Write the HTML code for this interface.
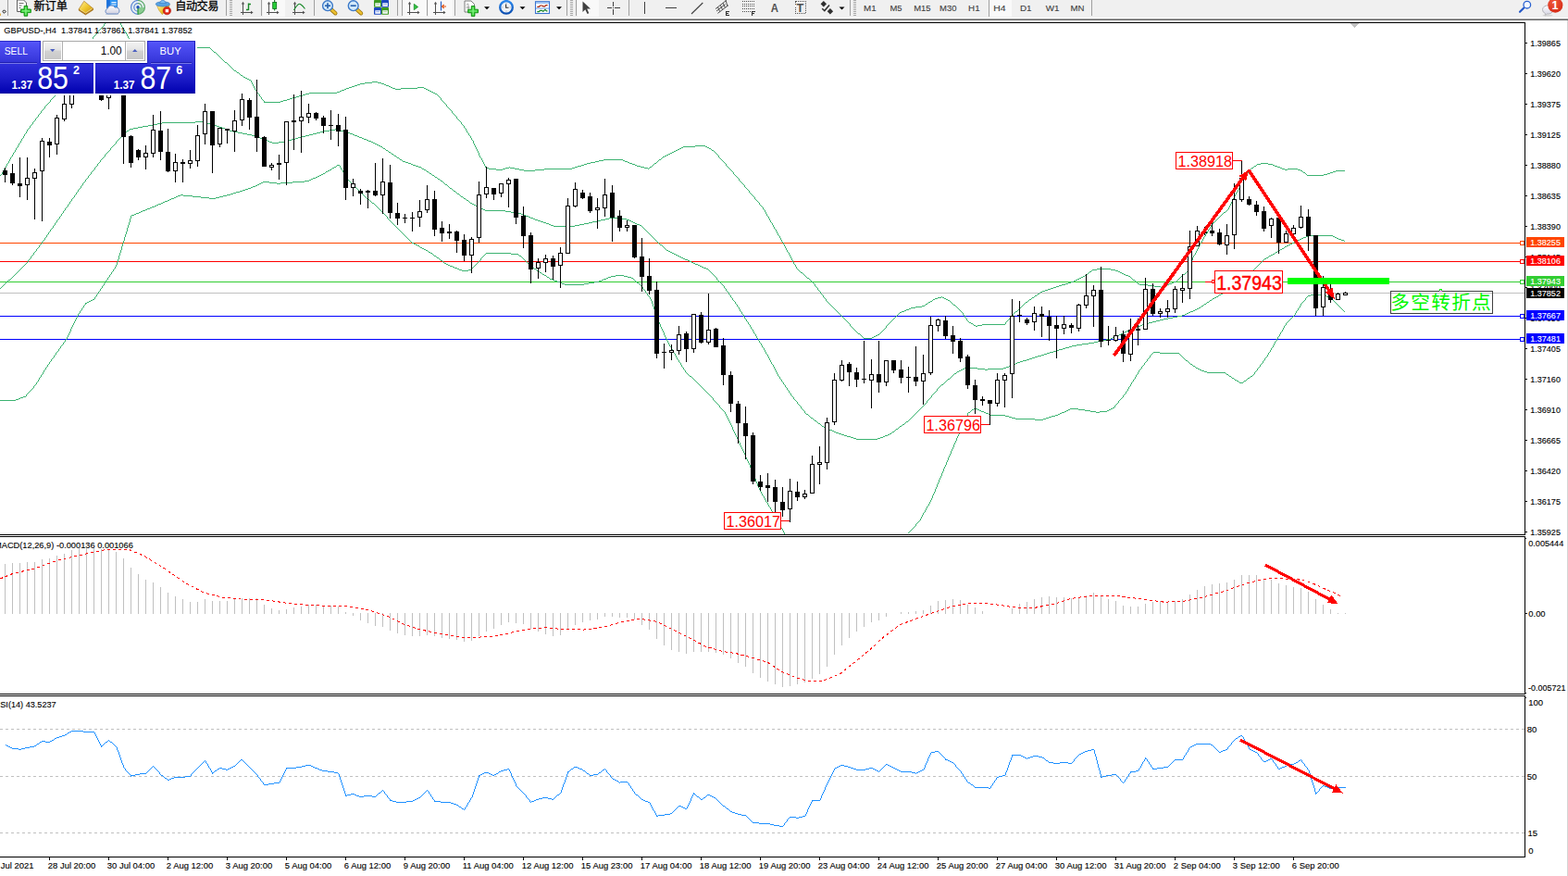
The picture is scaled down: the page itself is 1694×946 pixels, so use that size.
<!DOCTYPE html><html><head><meta charset="utf-8"><title>GBPUSD H4</title>
<style>html,body{margin:0;padding:0;background:#fff;}body{width:1694px;height:946px;overflow:hidden;position:relative;font-family:"Liberation Sans","Noto Sans CJK SC",sans-serif;}svg{position:absolute;left:0;top:0;display:block}text{font-family:"Liberation Sans","Noto Sans CJK SC",sans-serif;}</style></head><body>
<svg width="1694" height="946" viewBox="0 0 1694 946">
<defs>
<linearGradient id="gTab" x1="0" y1="0" x2="0" y2="1"><stop offset="0" stop-color="#5656fa"/><stop offset="1" stop-color="#3232d6"/></linearGradient>
<linearGradient id="gBox" x1="0" y1="0" x2="0" y2="1"><stop offset="0" stop-color="#3030dc"/><stop offset="0.5" stop-color="#1c1cc8"/><stop offset="1" stop-color="#0000ae"/></linearGradient>
<linearGradient id="gBtn" x1="0" y1="0" x2="0" y2="1"><stop offset="0" stop-color="#f2f2f2"/><stop offset="0.45" stop-color="#e4e4e4"/><stop offset="0.5" stop-color="#d2d2d2"/><stop offset="1" stop-color="#c8c8c8"/></linearGradient>
<radialGradient id="gBadge" cx="0.4" cy="0.3" r="0.8"><stop offset="0" stop-color="#f05a3c"/><stop offset="1" stop-color="#d42814"/></radialGradient>
<linearGradient id="gBook" x1="0" y1="0" x2="1" y2="1"><stop offset="0" stop-color="#fff0a0"/><stop offset="0.5" stop-color="#f0c830"/><stop offset="1" stop-color="#c89010"/></linearGradient>
<linearGradient id="gBubble" x1="0" y1="0" x2="0" y2="1"><stop offset="0" stop-color="#ffffff"/><stop offset="1" stop-color="#d0d0e0"/></linearGradient>
<linearGradient id="gClock" x1="0" y1="0" x2="0" y2="1"><stop offset="0" stop-color="#2a88ee"/><stop offset="1" stop-color="#0c4eb0"/></linearGradient>
<clipPath id="clipMain"><rect x="0" y="25" width="1647" height="552"/></clipPath>
</defs>
<rect x="0" y="0" width="1694" height="946" fill="#fff"/>
<g shape-rendering="crispEdges" clip-path="url(#clipMain)">
<rect x="0" y="262" width="1647" height="1" fill="#ff4500"/>
<rect x="0" y="282" width="1647" height="1" fill="#ff0000"/>
<rect x="0" y="304" width="1647" height="1" fill="#32cd32"/>
<rect x="0" y="316" width="1647" height="1" fill="#c0c0c0"/>
<rect x="0" y="341" width="1647" height="1" fill="#0000ff"/>
<rect x="0" y="366" width="1647" height="1" fill="#0000ff"/>
<path d="M0 189h1v1h-1zM1 188h1v1h-1zM2 186h1v2h-1zM3 184h1v2h-1zM4 182h1v2h-1zM5 181h1v1h-1zM6 179h1v2h-1zM7 177h1v2h-1zM8 176h1v1h-1zM9 174h1v2h-1zM10 172h1v2h-1zM11 170h1v2h-1zM12 169h1v1h-1zM13 167h1v2h-1zM14 165h1v2h-1zM15 164h1v1h-1zM16 162h1v2h-1zM17 160h1v2h-1zM18 159h1v1h-1zM19 157h1v2h-1zM20 155h1v2h-1zM21 154h1v1h-1zM22 152h1v2h-1zM23 150h1v2h-1zM24 149h1v1h-1zM25 147h1v2h-1zM26 145h1v2h-1zM27 144h1v1h-1zM28 142h1v2h-1zM29 140h1v2h-1zM30 139h1v1h-1zM31 138h1v1h-1zM32 136h1v2h-1zM33 135h1v1h-1zM34 134h1v1h-1zM35 132h1v2h-1zM36 131h1v1h-1zM37 130h1v1h-1zM38 128h1v2h-1zM39 127h1v1h-1zM40 126h1v1h-1zM41 124h1v2h-1zM42 123h1v1h-1zM43 122h1v1h-1zM44 120h1v2h-1zM45 119h1v1h-1zM46 118h1v1h-1zM47 117h1v1h-1zM48 115h1v2h-1zM49 114h1v1h-1zM50 113h1v1h-1zM51 112h1v1h-1zM52 111h1v1h-1zM53 110h1v1h-1zM54 108h1v2h-1zM55 107h1v1h-1zM56 106h1v1h-1zM57 105h1v1h-1zM58 104h1v1h-1zM59 102h1v2h-1zM60 101h1v1h-1zM61 99h1v2h-1zM62 98h1v1h-1zM63 97h1v1h-1zM64 95h1v2h-1zM65 94h1v1h-1zM66 92h1v2h-1zM67 91h1v1h-1zM68 89h1v2h-1zM69 88h1v1h-1zM70 86h1v2h-1zM71 85h1v1h-1zM72 83h1v2h-1zM73 82h1v1h-1zM74 80h1v2h-1zM75 79h1v1h-1zM76 77h1v2h-1zM77 75h1v2h-1zM78 74h1v1h-1zM79 72h1v2h-1zM80 70h1v2h-1zM81 69h1v1h-1zM82 67h1v2h-1zM83 65h1v2h-1zM84 64h1v1h-1zM85 62h1v2h-1zM86 60h1v2h-1zM87 59h1v1h-1zM88 57h1v2h-1zM89 55h1v2h-1zM90 54h1v1h-1zM91 52h1v2h-1zM92 51h1v1h-1zM93 50h1v1h-1zM94 48h1v2h-1zM95 47h1v1h-1zM96 46h1v1h-1zM97 44h1v2h-1zM98 43h1v1h-1zM99 42h1v1h-1zM100 40h1v2h-1zM101 39h1v1h-1zM102 38h1v1h-1zM103 37h1v1h-1zM104 36h1v1h-1zM105 34h1v2h-1zM106 33h1v1h-1zM107 32h1v1h-1zM108 31h1v1h-1zM109 30h1v1h-1zM110 29h1v1h-1zM111 28h1v1h-1zM112 26h1v2h-1zM113 25h1v1h-1zM114 24h1v1h-1zM115 23h1v1h-1zM116 22h1v1h-1zM117 21h1v1h-1zM118 20h1v1h-1zM119 19h1v1h-1zM120 18h1v1h-1zM121 17h2v1h-2zM123 18h1v1h-1zM124 19h1v1h-1zM125 20h1v1h-1zM126 21h1v1h-1zM127 22h1v1h-1zM128 23h1v1h-1zM129 24h1v1h-1zM130 25h1v2h-1zM131 27h1v2h-1zM132 29h1v1h-1zM133 30h1v2h-1zM134 32h1v2h-1zM135 34h1v1h-1zM136 35h1v2h-1zM137 37h1v2h-1zM138 39h1v2h-1zM139 41h1v2h-1zM140 43h1v2h-1zM141 45h9v1h-9zM150 46h10v1h-10zM160 47h10v1h-10zM170 48h10v1h-10zM180 49h10v1h-10zM190 50h14v1h-14zM204 51h23v1h-23zM227 52h1v1h-1zM228 53h1v1h-1zM229 54h1v1h-1zM230 55h1v1h-1zM231 56h2v1h-2zM233 57h1v1h-1zM234 58h1v1h-1zM235 59h1v1h-1zM236 60h1v1h-1zM237 61h1v1h-1zM238 62h1v1h-1zM239 63h1v1h-1zM240 64h1v1h-1zM241 65h1v1h-1zM242 66h1v1h-1zM243 67h2v1h-2zM245 68h1v1h-1zM246 69h1v1h-1zM247 70h1v1h-1zM248 71h1v1h-1zM249 72h1v1h-1zM250 73h1v1h-1zM251 74h1v1h-1zM252 75h1v1h-1zM253 76h2v1h-2zM255 77h1v1h-1zM256 78h2v1h-2zM258 79h1v1h-1zM259 80h1v1h-1zM260 81h2v1h-2zM262 82h1v1h-1zM263 83h2v1h-2zM265 84h2v1h-2zM267 85h2v1h-2zM269 86h2v1h-2zM271 87h1v2h-1zM272 89h1v2h-1zM273 91h1v2h-1zM274 93h1v2h-1zM275 95h1v2h-1zM276 97h1v1h-1zM277 98h1v2h-1zM278 100h1v1h-1zM279 101h1v1h-1zM280 102h1v2h-1zM281 104h1v1h-1zM282 105h1v2h-1zM283 107h1v1h-1zM284 108h1v1h-1zM285 109h1v2h-1zM286 110h17v1h-17zM303 109h3v1h-3zM306 108h4v1h-4zM310 107h3v1h-3zM313 106h3v1h-3zM316 105h4v1h-4zM320 104h3v1h-3zM323 103h4v1h-4zM327 102h3v1h-3zM330 101h4v1h-4zM334 100h30v1h-30zM364 99h3v1h-3zM367 98h2v1h-2zM369 97h3v1h-3zM372 96h2v1h-2zM374 95h3v1h-3zM377 94h3v1h-3zM380 93h3v1h-3zM383 92h3v1h-3zM386 91h3v1h-3zM389 90h5v1h-5zM394 89h8v1h-8zM402 88h6v1h-6zM408 89h4v1h-4zM412 90h3v1h-3zM415 91h2v1h-2zM417 92h3v1h-3zM420 93h2v1h-2zM422 94h2v1h-2zM424 95h3v1h-3zM427 96h6v1h-6zM433 95h18v1h-18zM451 94h7v1h-7zM458 95h2v1h-2zM460 96h2v1h-2zM462 97h2v1h-2zM464 98h2v1h-2zM466 99h2v1h-2zM468 100h2v1h-2zM470 101h2v1h-2zM472 102h1v1h-1zM473 103h1v1h-1zM474 104h1v1h-1zM475 105h1v1h-1zM476 106h1v2h-1zM477 108h1v1h-1zM478 109h1v1h-1zM479 110h1v1h-1zM480 111h1v1h-1zM481 112h1v1h-1zM482 113h1v2h-1zM483 115h1v1h-1zM484 116h1v1h-1zM485 117h1v1h-1zM486 118h1v1h-1zM487 119h1v1h-1zM488 120h1v2h-1zM489 122h1v1h-1zM490 123h1v1h-1zM491 124h1v1h-1zM492 125h1v1h-1zM493 126h1v2h-1zM494 128h1v1h-1zM495 129h1v1h-1zM496 130h1v1h-1zM497 131h1v1h-1zM498 132h1v2h-1zM499 134h1v1h-1zM500 135h1v1h-1zM501 136h1v2h-1zM502 138h1v1h-1zM503 139h1v2h-1zM504 141h1v2h-1zM505 143h1v1h-1zM506 144h1v2h-1zM507 146h1v1h-1zM508 147h1v2h-1zM509 149h1v2h-1zM510 151h1v1h-1zM511 152h1v3h-1zM512 155h1v2h-1zM513 157h1v2h-1zM514 159h1v2h-1zM515 161h1v2h-1zM516 163h1v2h-1zM517 165h1v3h-1zM518 168h1v2h-1zM519 170h1v1h-1zM520 171h1v2h-1zM521 173h1v2h-1zM522 175h1v2h-1zM523 177h1v2h-1zM524 179h1v2h-1zM525 181h3v1h-3zM528 182h8v1h-8zM536 183h7v1h-7zM543 182h3v1h-3zM546 181h4v1h-4zM550 180h1v1h-1zM551 181h5v1h-5zM556 182h5v1h-5zM561 183h5v1h-5zM566 184h12v1h-12zM578 183h10v1h-10zM588 182h30v1h-30zM618 181h3v1h-3zM621 180h3v1h-3zM624 179h4v1h-4zM628 178h3v1h-3zM631 177h3v1h-3zM634 176h4v1h-4zM638 175h5v1h-5zM643 174h4v1h-4zM647 173h5v1h-5zM652 172h21v1h-21zM673 173h2v1h-2zM675 174h3v1h-3zM678 175h2v1h-2zM680 176h3v1h-3zM683 177h3v1h-3zM686 178h2v1h-2zM688 179h4v1h-4zM692 180h4v1h-4zM696 181h4v1h-4zM700 182h1v1h-1zM701 181h1v1h-1zM702 180h2v1h-2zM704 179h1v1h-1zM705 178h1v1h-1zM706 177h1v1h-1zM707 176h2v1h-2zM709 175h1v1h-1zM710 174h1v1h-1zM711 173h1v1h-1zM712 172h2v1h-2zM714 171h1v1h-1zM715 170h1v1h-1zM716 169h2v1h-2zM718 168h2v1h-2zM720 167h2v1h-2zM722 166h2v1h-2zM724 165h2v1h-2zM726 164h2v1h-2zM728 163h2v1h-2zM730 162h2v1h-2zM732 161h2v1h-2zM734 160h2v1h-2zM736 159h2v1h-2zM738 158h13v1h-13zM751 157h11v1h-11zM762 158h2v1h-2zM764 159h2v1h-2zM766 160h2v1h-2zM768 161h1v1h-1zM769 162h2v1h-2zM771 163h1v1h-1zM772 164h1v1h-1zM773 165h1v1h-1zM774 166h1v1h-1zM775 167h1v1h-1zM776 168h1v2h-1zM777 170h1v1h-1zM778 171h1v1h-1zM779 172h1v1h-1zM780 173h1v1h-1zM781 174h1v1h-1zM782 175h1v1h-1zM783 176h1v1h-1zM784 177h1v2h-1zM785 179h1v1h-1zM786 180h1v1h-1zM787 181h1v1h-1zM788 182h1v1h-1zM789 183h1v1h-1zM790 184h1v1h-1zM791 185h1v1h-1zM792 186h1v2h-1zM793 188h1v1h-1zM794 189h1v1h-1zM795 190h1v1h-1zM796 191h1v1h-1zM797 192h1v1h-1zM798 193h1v2h-1zM799 195h1v1h-1zM800 196h1v1h-1zM801 197h1v1h-1zM802 198h1v1h-1zM803 199h1v1h-1zM804 200h1v2h-1zM805 202h1v1h-1zM806 203h1v1h-1zM807 204h1v1h-1zM808 205h1v1h-1zM809 206h1v2h-1zM810 208h1v1h-1zM811 209h1v1h-1zM812 210h1v1h-1zM813 211h1v1h-1zM814 212h1v1h-1zM815 213h1v2h-1zM816 215h1v1h-1zM817 216h1v1h-1zM818 217h1v1h-1zM819 218h1v1h-1zM820 219h1v2h-1zM821 221h1v1h-1zM822 222h1v1h-1zM823 223h1v1h-1zM824 224h1v2h-1zM825 226h1v1h-1zM826 227h1v2h-1zM827 229h1v2h-1zM828 231h1v2h-1zM829 233h1v1h-1zM830 234h1v2h-1zM831 236h1v2h-1zM832 238h1v2h-1zM833 240h1v1h-1zM834 241h1v2h-1zM835 243h1v2h-1zM836 245h1v2h-1zM837 247h1v1h-1zM838 248h1v2h-1zM839 250h1v2h-1zM840 252h1v2h-1zM841 254h1v1h-1zM842 255h1v2h-1zM843 257h1v2h-1zM844 259h1v2h-1zM845 261h1v1h-1zM846 262h1v2h-1zM847 264h1v2h-1zM848 266h1v2h-1zM849 268h1v2h-1zM850 270h1v2h-1zM851 272h1v1h-1zM852 273h1v2h-1zM853 275h1v2h-1zM854 277h1v2h-1zM855 279h1v2h-1zM856 281h1v2h-1zM857 283h1v2h-1zM858 285h1v1h-1zM859 286h1v2h-1zM860 288h1v2h-1zM861 290h1v1h-1zM862 291h1v1h-1zM863 292h1v1h-1zM864 293h1v1h-1zM865 294h2v1h-2zM867 295h1v1h-1zM868 296h1v1h-1zM869 297h1v1h-1zM870 298h1v1h-1zM871 299h1v1h-1zM872 300h2v1h-2zM874 301h1v1h-1zM875 302h1v1h-1zM876 303h1v1h-1zM877 304h1v1h-1zM878 305h1v1h-1zM879 306h1v1h-1zM880 307h1v2h-1zM881 309h1v1h-1zM882 310h1v1h-1zM883 311h1v2h-1zM884 313h1v1h-1zM885 314h1v1h-1zM886 315h1v2h-1zM887 317h1v1h-1zM888 318h1v1h-1zM889 319h1v2h-1zM890 321h1v1h-1zM891 322h1v1h-1zM892 323h1v2h-1zM893 325h1v1h-1zM894 326h1v1h-1zM895 327h1v1h-1zM896 328h1v1h-1zM897 329h1v1h-1zM898 330h1v1h-1zM899 331h1v1h-1zM900 332h1v1h-1zM901 333h1v1h-1zM902 334h1v1h-1zM903 335h1v1h-1zM904 336h1v1h-1zM905 337h1v1h-1zM906 338h1v1h-1zM907 339h1v1h-1zM908 340h1v1h-1zM909 341h1v1h-1zM910 342h1v1h-1zM911 343h1v1h-1zM912 344h1v1h-1zM913 345h1v1h-1zM914 346h1v1h-1zM915 347h1v1h-1zM916 348h1v1h-1zM917 349h1v1h-1zM918 350h1v2h-1zM919 352h1v1h-1zM920 353h1v1h-1zM921 354h1v1h-1zM922 355h1v1h-1zM923 356h1v1h-1zM924 357h1v1h-1zM925 358h1v1h-1zM926 359h1v1h-1zM927 360h2v1h-2zM929 361h1v1h-1zM930 362h1v1h-1zM931 363h1v1h-1zM932 364h1v1h-1zM933 365h9v1h-9zM942 364h2v1h-2zM944 363h2v1h-2zM946 362h2v1h-2zM948 361h2v1h-2zM950 360h1v1h-1zM951 359h1v1h-1zM952 358h1v1h-1zM953 357h1v1h-1zM954 356h1v1h-1zM955 355h1v1h-1zM956 354h1v1h-1zM957 352h1v2h-1zM958 351h1v1h-1zM959 350h1v1h-1zM960 349h1v1h-1zM961 348h1v1h-1zM962 347h1v1h-1zM963 346h1v1h-1zM964 345h1v1h-1zM965 344h1v1h-1zM966 343h1v1h-1zM967 342h1v1h-1zM968 341h1v1h-1zM969 340h1v1h-1zM970 339h1v1h-1zM971 338h1v1h-1zM972 337h2v1h-2zM974 336h3v1h-3zM977 335h2v1h-2zM979 334h3v1h-3zM982 333h2v1h-2zM984 332h5v1h-5zM989 331h7v1h-7zM996 330h3v1h-3zM999 329h1v1h-1zM1000 328h2v1h-2zM1002 327h1v1h-1zM1003 326h2v1h-2zM1005 325h2v1h-2zM1007 324h1v1h-1zM1008 323h2v1h-2zM1010 322h3v1h-3zM1013 321h4v1h-4zM1017 320h1v1h-1zM1018 321h2v1h-2zM1020 322h2v1h-2zM1022 323h2v1h-2zM1024 324h2v1h-2zM1026 325h1v1h-1zM1027 326h1v1h-1zM1028 327h1v1h-1zM1029 328h1v1h-1zM1030 329h2v1h-2zM1032 330h1v1h-1zM1033 331h1v1h-1zM1034 332h1v1h-1zM1035 333h1v1h-1zM1036 334h1v1h-1zM1037 335h1v1h-1zM1038 336h1v1h-1zM1039 337h1v1h-1zM1040 338h1v2h-1zM1041 340h1v1h-1zM1042 341h1v2h-1zM1043 343h1v1h-1zM1044 344h1v2h-1zM1045 346h1v1h-1zM1046 347h1v1h-1zM1047 348h2v1h-2zM1049 349h2v1h-2zM1051 350h1v1h-1zM1052 351h2v1h-2zM1054 352h2v1h-2zM1056 351h5v1h-5zM1061 350h25v1h-25zM1086 348h1v2h-1zM1087 347h1v1h-1zM1088 346h1v1h-1zM1089 345h1v1h-1zM1090 344h1v1h-1zM1091 343h1v1h-1zM1092 342h1v1h-1zM1093 341h1v1h-1zM1094 339h1v2h-1zM1095 338h1v1h-1zM1096 337h1v1h-1zM1097 336h2v1h-2zM1099 335h1v1h-1zM1100 334h1v1h-1zM1101 333h1v1h-1zM1102 332h1v1h-1zM1103 331h1v1h-1zM1104 330h1v1h-1zM1105 329h1v1h-1zM1106 328h1v1h-1zM1107 327h1v1h-1zM1108 326h2v1h-2zM1110 325h1v1h-1zM1111 324h1v1h-1zM1112 323h2v1h-2zM1114 322h1v1h-1zM1115 321h2v1h-2zM1117 320h1v1h-1zM1118 319h2v1h-2zM1120 318h1v1h-1zM1121 317h2v1h-2zM1123 316h1v1h-1zM1124 315h2v1h-2zM1126 314h3v1h-3zM1129 313h3v1h-3zM1132 312h3v1h-3zM1135 311h3v1h-3zM1138 310h3v1h-3zM1141 309h3v1h-3zM1144 308h3v1h-3zM1147 307h4v1h-4zM1151 306h3v1h-3zM1154 305h3v1h-3zM1157 304h3v1h-3zM1160 303h2v1h-2zM1162 302h2v1h-2zM1164 301h2v1h-2zM1166 300h2v1h-2zM1168 299h2v1h-2zM1170 298h2v1h-2zM1172 297h2v1h-2zM1174 296h1v1h-1zM1175 295h1v1h-1zM1176 294h1v1h-1zM1177 293h2v1h-2zM1179 292h1v1h-1zM1180 291h5v1h-5zM1185 290h15v1h-15zM1200 291h5v1h-5zM1205 292h3v1h-3zM1208 293h2v1h-2zM1210 294h2v1h-2zM1212 295h2v1h-2zM1214 296h2v1h-2zM1216 297h3v1h-3zM1219 298h2v1h-2zM1221 299h1v1h-1zM1222 300h1v1h-1zM1223 301h1v1h-1zM1224 302h2v1h-2zM1226 303h1v1h-1zM1227 304h1v1h-1zM1228 305h1v1h-1zM1229 306h2v1h-2zM1231 307h9v1h-9zM1240 308h7v1h-7zM1247 309h7v1h-7zM1254 310h2v1h-2zM1256 309h3v1h-3zM1259 308h2v1h-2zM1261 307h2v1h-2zM1263 306h3v1h-3zM1266 305h2v1h-2zM1268 304h3v1h-3zM1271 303h1v1h-1zM1272 302h1v1h-1zM1273 301h1v1h-1zM1274 300h1v1h-1zM1275 299h1v1h-1zM1276 298h1v1h-1zM1277 297h1v1h-1zM1278 296h2v1h-2zM1280 295h1v1h-1zM1281 294h1v1h-1zM1282 293h1v1h-1zM1283 292h1v1h-1zM1284 289h1v3h-1zM1285 286h1v3h-1zM1286 284h1v2h-1zM1287 281h1v3h-1zM1288 278h1v3h-1zM1289 276h1v2h-1zM1290 275h1v1h-1zM1291 273h1v2h-1zM1292 271h1v2h-1zM1293 269h1v2h-1zM1294 267h1v2h-1zM1295 265h1v2h-1zM1296 263h1v2h-1zM1297 262h1v1h-1zM1298 260h1v2h-1zM1299 258h1v2h-1zM1300 256h1v2h-1zM1301 255h1v1h-1zM1302 253h1v2h-1zM1303 252h1v1h-1zM1304 250h1v2h-1zM1305 248h1v2h-1zM1306 247h1v1h-1zM1307 245h1v2h-1zM1308 243h1v2h-1zM1309 242h1v1h-1zM1310 240h1v2h-1zM1311 240h1v1h-1zM1312 239h1v1h-1zM1313 238h1v1h-1zM1314 237h1v1h-1zM1315 236h1v1h-1zM1316 235h1v1h-1zM1317 234h1v1h-1zM1318 233h1v1h-1zM1319 232h1v1h-1zM1320 231h1v1h-1zM1321 230h1v1h-1zM1322 229h2v1h-2zM1324 228h1v1h-1zM1325 227h1v1h-1zM1326 226h1v1h-1zM1327 224h1v2h-1zM1328 222h1v2h-1zM1329 220h1v2h-1zM1330 218h1v2h-1zM1331 216h1v2h-1zM1332 214h1v2h-1zM1333 212h1v2h-1zM1334 210h1v2h-1zM1335 208h1v2h-1zM1336 207h1v1h-1zM1337 205h1v2h-1zM1338 203h1v2h-1zM1339 201h1v2h-1zM1340 199h1v2h-1zM1341 197h1v2h-1zM1342 195h1v2h-1zM1343 193h1v2h-1zM1344 191h1v2h-1zM1345 190h1v1h-1zM1346 188h1v2h-1zM1347 187h1v1h-1zM1348 185h1v2h-1zM1349 184h1v1h-1zM1350 183h1v1h-1zM1351 182h1v1h-1zM1352 181h2v1h-2zM1354 180h1v1h-1zM1355 179h2v1h-2zM1357 178h1v1h-1zM1358 177h4v1h-4zM1362 176h8v1h-8zM1370 177h5v1h-5zM1375 178h2v1h-2zM1377 179h3v1h-3zM1380 180h3v1h-3zM1383 181h2v1h-2zM1385 182h3v1h-3zM1388 183h3v1h-3zM1391 182h11v1h-11zM1402 183h3v1h-3zM1405 184h2v1h-2zM1407 185h1v1h-1zM1408 186h2v1h-2zM1410 187h1v1h-1zM1411 188h1v1h-1zM1412 189h18v1h-18zM1430 188h4v1h-4zM1434 187h3v1h-3zM1437 186h3v1h-3zM1440 185h3v1h-3zM1443 184h10v1h-10z" fill="#3cb371"/>
<path d="M0 311h1v1h-1zM1 310h1v1h-1zM2 309h1v1h-1zM3 308h1v1h-1zM4 307h1v1h-1zM5 306h1v1h-1zM6 305h1v1h-1zM7 304h1v1h-1zM8 303h1v1h-1zM9 302h2v1h-2zM11 301h1v1h-1zM12 300h1v1h-1zM13 299h1v1h-1zM14 298h1v1h-1zM15 297h1v1h-1zM16 296h1v1h-1zM17 295h1v1h-1zM18 294h1v1h-1zM19 293h1v1h-1zM20 292h1v1h-1zM21 291h1v1h-1zM22 290h1v1h-1zM23 289h1v1h-1zM24 288h1v1h-1zM25 287h1v1h-1zM26 286h1v1h-1zM27 285h1v1h-1zM28 284h1v1h-1zM29 283h1v1h-1zM30 281h1v2h-1zM31 280h1v1h-1zM32 279h1v1h-1zM33 277h1v2h-1zM34 276h1v1h-1zM35 275h1v1h-1zM36 273h1v2h-1zM37 272h1v1h-1zM38 271h1v1h-1zM39 269h1v2h-1zM40 268h1v1h-1zM41 267h1v1h-1zM42 265h1v2h-1zM43 264h1v1h-1zM44 263h1v1h-1zM45 261h1v2h-1zM46 260h1v1h-1zM47 259h1v1h-1zM48 257h1v2h-1zM49 256h1v1h-1zM50 254h1v2h-1zM51 253h1v1h-1zM52 251h1v2h-1zM53 250h1v1h-1zM54 248h1v2h-1zM55 247h1v1h-1zM56 246h1v1h-1zM57 244h1v2h-1zM58 243h1v1h-1zM59 241h1v2h-1zM60 240h1v1h-1zM61 238h1v2h-1zM62 237h1v1h-1zM63 236h1v1h-1zM64 234h1v2h-1zM65 233h1v1h-1zM66 231h1v2h-1zM67 230h1v1h-1zM68 228h1v2h-1zM69 227h1v1h-1zM70 225h1v2h-1zM71 224h1v1h-1zM72 223h1v1h-1zM73 221h1v2h-1zM74 220h1v1h-1zM75 218h1v2h-1zM76 217h1v1h-1zM77 215h1v2h-1zM78 214h1v1h-1zM79 213h1v1h-1zM80 211h1v2h-1zM81 210h1v1h-1zM82 208h1v2h-1zM83 207h1v1h-1zM84 205h1v2h-1zM85 204h1v1h-1zM86 203h1v1h-1zM87 201h1v2h-1zM88 200h1v1h-1zM89 198h1v2h-1zM90 197h1v1h-1zM91 196h1v1h-1zM92 194h1v2h-1zM93 193h1v1h-1zM94 192h1v1h-1zM95 190h1v2h-1zM96 189h1v1h-1zM97 188h1v1h-1zM98 186h1v2h-1zM99 185h1v1h-1zM100 184h1v1h-1zM101 183h1v1h-1zM102 181h1v2h-1zM103 180h1v1h-1zM104 179h1v1h-1zM105 177h1v2h-1zM106 176h1v1h-1zM107 175h1v1h-1zM108 173h1v2h-1zM109 172h1v1h-1zM110 171h1v1h-1zM111 170h1v1h-1zM112 169h1v1h-1zM113 167h1v2h-1zM114 166h1v1h-1zM115 165h1v1h-1zM116 164h1v1h-1zM117 163h1v1h-1zM118 162h1v1h-1zM119 160h1v2h-1zM120 159h1v1h-1zM121 158h1v1h-1zM122 157h1v1h-1zM123 156h1v1h-1zM124 155h1v1h-1zM125 153h1v2h-1zM126 152h1v1h-1zM127 151h1v1h-1zM128 150h1v1h-1zM129 149h1v1h-1zM130 148h1v1h-1zM131 146h1v2h-1zM132 146h1v1h-1zM133 145h1v1h-1zM134 144h1v1h-1zM135 143h1v1h-1zM136 142h1v1h-1zM137 141h2v1h-2zM139 140h1v1h-1zM140 139h4v1h-4zM144 138h5v1h-5zM149 137h5v1h-5zM154 136h6v1h-6zM160 135h5v1h-5zM165 134h5v1h-5zM170 133h5v1h-5zM175 132h36v1h-36zM211 131h8v1h-8zM219 132h4v1h-4zM223 133h4v1h-4zM227 134h4v1h-4zM231 135h3v1h-3zM234 136h3v1h-3zM237 137h3v1h-3zM240 138h3v1h-3zM243 139h3v1h-3zM246 140h2v1h-2zM248 141h4v1h-4zM252 142h5v1h-5zM257 143h5v1h-5zM262 144h5v1h-5zM267 145h5v1h-5zM272 146h4v1h-4zM276 147h3v1h-3zM279 148h2v1h-2zM281 149h3v1h-3zM284 150h2v1h-2zM286 151h3v1h-3zM289 152h2v1h-2zM291 153h3v1h-3zM294 154h7v1h-7zM301 153h7v1h-7zM308 152h4v1h-4zM312 151h3v1h-3zM315 150h4v1h-4zM319 149h3v1h-3zM322 148h4v1h-4zM326 147h4v1h-4zM330 146h4v1h-4zM334 145h4v1h-4zM338 144h4v1h-4zM342 143h4v1h-4zM346 142h4v1h-4zM350 141h6v1h-6zM356 140h6v1h-6zM362 139h2v1h-2zM364 140h4v1h-4zM368 141h4v1h-4zM372 142h4v1h-4zM376 143h2v1h-2zM378 144h3v1h-3zM381 145h2v1h-2zM383 146h3v1h-3zM386 147h2v1h-2zM388 148h3v1h-3zM391 149h2v1h-2zM393 150h3v1h-3zM396 151h2v1h-2zM398 152h3v1h-3zM401 153h2v1h-2zM403 154h2v1h-2zM405 155h2v1h-2zM407 156h2v1h-2zM409 157h2v1h-2zM411 158h2v1h-2zM413 159h1v1h-1zM414 160h2v1h-2zM416 161h1v1h-1zM417 162h2v1h-2zM419 163h1v1h-1zM420 164h2v1h-2zM422 165h1v1h-1zM423 166h2v1h-2zM425 167h1v1h-1zM426 168h2v1h-2zM428 169h1v1h-1zM429 170h2v1h-2zM431 171h1v1h-1zM432 172h2v1h-2zM434 173h1v1h-1zM435 174h3v1h-3zM438 175h3v1h-3zM441 176h3v1h-3zM444 177h2v1h-2zM446 178h3v1h-3zM449 179h3v1h-3zM452 180h3v1h-3zM455 181h1v1h-1zM456 182h2v1h-2zM458 183h2v1h-2zM460 184h1v1h-1zM461 185h2v1h-2zM463 186h1v1h-1zM464 187h2v1h-2zM466 188h1v1h-1zM467 189h2v1h-2zM469 190h1v1h-1zM470 191h2v1h-2zM472 192h1v1h-1zM473 193h2v1h-2zM475 194h1v1h-1zM476 195h2v1h-2zM478 196h1v1h-1zM479 197h1v1h-1zM480 198h1v1h-1zM481 199h2v1h-2zM483 200h1v1h-1zM484 201h1v1h-1zM485 202h1v1h-1zM486 203h2v1h-2zM488 204h1v1h-1zM489 205h1v1h-1zM490 206h2v1h-2zM492 207h1v1h-1zM493 208h1v1h-1zM494 209h2v1h-2zM496 210h1v1h-1zM497 211h1v1h-1zM498 212h2v1h-2zM500 213h1v1h-1zM501 214h2v1h-2zM503 215h1v1h-1zM504 216h2v1h-2zM506 217h1v1h-1zM507 218h1v1h-1zM508 219h2v1h-2zM510 220h2v1h-2zM512 221h2v1h-2zM514 222h2v1h-2zM516 223h2v1h-2zM518 224h2v1h-2zM520 225h2v1h-2zM522 226h2v1h-2zM524 227h22v1h-22zM546 228h6v1h-6zM552 229h6v1h-6zM558 230h5v1h-5zM563 231h3v1h-3zM566 232h2v1h-2zM568 233h3v1h-3zM571 234h2v1h-2zM573 235h3v1h-3zM576 236h2v1h-2zM578 237h3v1h-3zM581 238h3v1h-3zM584 239h3v1h-3zM587 240h3v1h-3zM590 241h3v1h-3zM593 242h2v1h-2zM595 243h3v1h-3zM598 244h17v1h-17zM615 245h1v1h-1zM616 244h5v1h-5zM621 243h5v1h-5zM626 242h5v1h-5zM631 241h5v1h-5zM636 240h4v1h-4zM640 239h5v1h-5zM645 238h4v1h-4zM649 237h5v1h-5zM654 236h4v1h-4zM658 235h14v1h-14zM672 236h5v1h-5zM677 237h3v1h-3zM680 238h2v1h-2zM682 239h2v1h-2zM684 240h2v1h-2zM686 241h2v1h-2zM688 242h3v1h-3zM691 243h2v1h-2zM693 244h1v1h-1zM694 245h1v1h-1zM695 246h1v1h-1zM696 247h1v1h-1zM697 248h1v1h-1zM698 249h1v1h-1zM699 250h1v1h-1zM700 251h1v1h-1zM701 252h1v1h-1zM702 253h1v1h-1zM703 254h1v1h-1zM704 255h1v1h-1zM705 256h1v1h-1zM706 257h1v1h-1zM707 258h1v1h-1zM708 259h1v1h-1zM709 260h1v1h-1zM710 261h1v1h-1zM711 262h1v1h-1zM712 263h1v1h-1zM713 264h2v1h-2zM715 265h1v1h-1zM716 266h1v1h-1zM717 267h1v1h-1zM718 268h1v1h-1zM719 269h1v1h-1zM720 270h2v1h-2zM722 271h2v1h-2zM724 272h2v1h-2zM726 273h2v1h-2zM728 274h2v1h-2zM730 275h2v1h-2zM732 276h2v1h-2zM734 277h2v1h-2zM736 278h2v1h-2zM738 279h2v1h-2zM740 280h3v1h-3zM743 281h2v1h-2zM745 282h2v1h-2zM747 283h2v1h-2zM749 284h2v1h-2zM751 285h3v1h-3zM754 286h2v1h-2zM756 287h2v1h-2zM758 288h2v1h-2zM760 289h3v1h-3zM763 290h2v1h-2zM765 291h1v1h-1zM766 292h1v1h-1zM767 293h1v1h-1zM768 294h1v1h-1zM769 295h1v1h-1zM770 296h1v1h-1zM771 297h1v1h-1zM772 298h1v1h-1zM773 299h1v1h-1zM774 300h1v2h-1zM775 302h1v1h-1zM776 303h1v1h-1zM777 304h1v1h-1zM778 305h1v1h-1zM779 306h1v1h-1zM780 307h1v1h-1zM781 308h1v1h-1zM782 309h1v2h-1zM783 311h1v1h-1zM784 312h1v2h-1zM785 314h1v1h-1zM786 315h1v1h-1zM787 316h1v2h-1zM788 318h1v1h-1zM789 319h1v2h-1zM790 321h1v1h-1zM791 322h1v2h-1zM792 324h1v1h-1zM793 325h1v1h-1zM794 326h1v2h-1zM795 328h1v1h-1zM796 329h1v2h-1zM797 331h1v1h-1zM798 332h1v2h-1zM799 334h1v2h-1zM800 336h1v1h-1zM801 337h1v2h-1zM802 339h1v1h-1zM803 340h1v2h-1zM804 342h1v2h-1zM805 344h1v1h-1zM806 345h1v2h-1zM807 347h1v1h-1zM808 348h1v2h-1zM809 350h1v1h-1zM810 351h1v2h-1zM811 353h1v2h-1zM812 355h1v1h-1zM813 356h1v2h-1zM814 358h1v2h-1zM815 360h1v1h-1zM816 361h1v2h-1zM817 363h1v2h-1zM818 365h1v1h-1zM819 366h1v2h-1zM820 368h1v2h-1zM821 370h1v1h-1zM822 371h1v2h-1zM823 373h1v2h-1zM824 375h1v1h-1zM825 376h1v2h-1zM826 378h1v2h-1zM827 380h1v2h-1zM828 382h1v1h-1zM829 383h1v2h-1zM830 385h1v2h-1zM831 387h1v2h-1zM832 389h1v2h-1zM833 391h1v2h-1zM834 393h1v1h-1zM835 394h1v2h-1zM836 396h1v2h-1zM837 398h1v2h-1zM838 400h1v2h-1zM839 402h1v2h-1zM840 404h1v2h-1zM841 406h1v1h-1zM842 407h1v2h-1zM843 409h1v1h-1zM844 410h1v2h-1zM845 412h1v1h-1zM846 413h1v2h-1zM847 415h1v1h-1zM848 416h1v2h-1zM849 418h1v1h-1zM850 419h1v2h-1zM851 421h1v1h-1zM852 422h1v2h-1zM853 424h1v1h-1zM854 425h1v2h-1zM855 427h1v1h-1zM856 428h1v1h-1zM857 429h1v2h-1zM858 431h1v1h-1zM859 432h1v1h-1zM860 433h1v1h-1zM861 434h1v2h-1zM862 436h1v1h-1zM863 437h1v1h-1zM864 438h1v1h-1zM865 439h1v2h-1zM866 441h1v1h-1zM867 442h1v1h-1zM868 443h1v1h-1zM869 444h1v2h-1zM870 446h1v1h-1zM871 447h2v1h-2zM873 448h1v1h-1zM874 449h1v1h-1zM875 450h1v1h-1zM876 451h2v1h-2zM878 452h1v1h-1zM879 453h1v1h-1zM880 454h2v1h-2zM882 455h1v1h-1zM883 456h1v1h-1zM884 457h2v1h-2zM886 458h1v1h-1zM887 459h1v1h-1zM888 460h2v1h-2zM890 461h1v1h-1zM891 462h3v1h-3zM894 463h2v1h-2zM896 464h3v1h-3zM899 465h2v1h-2zM901 466h2v1h-2zM903 467h3v1h-3zM906 468h3v1h-3zM909 469h3v1h-3zM912 470h3v1h-3zM915 471h4v1h-4zM919 472h3v1h-3zM922 473h3v1h-3zM925 474h23v1h-23zM948 473h3v1h-3zM951 472h3v1h-3zM954 471h2v1h-2zM956 470h3v1h-3zM959 469h2v1h-2zM961 468h2v1h-2zM963 467h1v1h-1zM964 466h2v1h-2zM966 465h1v1h-1zM967 464h1v1h-1zM968 463h2v1h-2zM970 462h1v1h-1zM971 461h1v1h-1zM972 460h2v1h-2zM974 459h1v1h-1zM975 458h2v1h-2zM977 457h1v1h-1zM978 456h1v1h-1zM979 455h2v1h-2zM981 454h1v1h-1zM982 453h1v1h-1zM983 452h1v1h-1zM984 451h1v1h-1zM985 450h1v1h-1zM986 449h1v1h-1zM987 448h1v1h-1zM988 447h1v1h-1zM989 446h1v1h-1zM990 445h1v1h-1zM991 444h1v1h-1zM992 443h1v1h-1zM993 442h1v1h-1zM994 441h1v1h-1zM995 440h1v1h-1zM996 439h1v1h-1zM997 438h1v1h-1zM998 437h1v1h-1zM999 436h1v1h-1zM1000 435h1v1h-1zM1001 433h1v2h-1zM1002 432h1v1h-1zM1003 431h1v1h-1zM1004 430h1v1h-1zM1005 429h1v1h-1zM1006 427h1v2h-1zM1007 426h1v1h-1zM1008 425h1v1h-1zM1009 424h1v1h-1zM1010 423h1v1h-1zM1011 422h1v1h-1zM1012 420h1v2h-1zM1013 419h1v1h-1zM1014 418h1v1h-1zM1015 417h1v1h-1zM1016 416h1v1h-1zM1017 415h2v1h-2zM1019 414h1v1h-1zM1020 413h1v1h-1zM1021 412h1v1h-1zM1022 411h1v1h-1zM1023 410h1v1h-1zM1024 409h2v1h-2zM1026 408h1v1h-1zM1027 407h1v1h-1zM1028 406h1v1h-1zM1029 405h1v1h-1zM1030 404h1v1h-1zM1031 403h2v1h-2zM1033 402h1v1h-1zM1034 401h2v1h-2zM1036 400h2v1h-2zM1038 399h2v1h-2zM1040 398h2v1h-2zM1042 397h2v1h-2zM1044 396h4v1h-4zM1048 397h8v1h-8zM1056 398h8v1h-8zM1064 399h3v1h-3zM1067 398h17v1h-17zM1084 397h3v1h-3zM1087 396h3v1h-3zM1090 395h2v1h-2zM1092 394h3v1h-3zM1095 393h2v1h-2zM1097 392h2v1h-2zM1099 391h3v1h-3zM1102 390h3v1h-3zM1105 389h4v1h-4zM1109 388h3v1h-3zM1112 387h3v1h-3zM1115 386h3v1h-3zM1118 385h3v1h-3zM1121 384h4v1h-4zM1125 383h3v1h-3zM1128 382h3v1h-3zM1131 381h3v1h-3zM1134 380h4v1h-4zM1138 379h3v1h-3zM1141 378h3v1h-3zM1144 377h4v1h-4zM1148 376h3v1h-3zM1151 375h4v1h-4zM1155 374h3v1h-3zM1158 373h5v1h-5zM1163 372h6v1h-6zM1169 371h7v1h-7zM1176 370h6v1h-6zM1182 369h4v1h-4zM1186 368h5v1h-5zM1191 367h4v1h-4zM1195 366h5v1h-5zM1200 365h2v1h-2zM1202 364h2v1h-2zM1204 363h3v1h-3zM1207 362h2v1h-2zM1209 361h2v1h-2zM1211 360h2v1h-2zM1213 359h2v1h-2zM1215 358h2v1h-2zM1217 357h3v1h-3zM1220 356h2v1h-2zM1222 355h2v1h-2zM1224 354h3v1h-3zM1227 353h2v1h-2zM1229 352h3v1h-3zM1232 351h2v1h-2zM1234 350h3v1h-3zM1237 349h4v1h-4zM1241 348h4v1h-4zM1245 347h4v1h-4zM1249 346h4v1h-4zM1253 345h4v1h-4zM1257 344h5v1h-5zM1262 343h5v1h-5zM1267 342h5v1h-5zM1272 341h5v1h-5zM1277 340h3v1h-3zM1280 339h2v1h-2zM1282 338h2v1h-2zM1284 337h2v1h-2zM1286 336h3v1h-3zM1289 335h2v1h-2zM1291 334h2v1h-2zM1293 333h2v1h-2zM1295 332h2v1h-2zM1297 331h1v1h-1zM1298 330h2v1h-2zM1300 329h1v1h-1zM1301 328h2v1h-2zM1303 327h1v1h-1zM1304 326h2v1h-2zM1306 325h1v1h-1zM1307 324h2v1h-2zM1309 323h1v1h-1zM1310 322h2v1h-2zM1312 321h2v1h-2zM1314 320h2v1h-2zM1316 319h1v1h-1zM1317 318h2v1h-2zM1319 317h2v1h-2zM1321 316h2v1h-2zM1323 315h1v1h-1zM1324 314h2v1h-2zM1326 313h2v1h-2zM1328 312h1v1h-1zM1329 311h2v1h-2zM1331 310h1v1h-1zM1332 309h1v1h-1zM1333 308h1v1h-1zM1334 307h2v1h-2zM1336 306h1v1h-1zM1337 305h1v1h-1zM1338 304h2v1h-2zM1340 303h1v1h-1zM1341 302h1v1h-1zM1342 301h1v1h-1zM1343 300h2v1h-2zM1345 299h1v1h-1zM1346 298h1v1h-1zM1347 297h2v1h-2zM1349 296h1v1h-1zM1350 295h1v1h-1zM1351 294h1v1h-1zM1352 293h1v1h-1zM1353 292h1v1h-1zM1354 291h1v1h-1zM1355 290h1v1h-1zM1356 289h1v1h-1zM1357 288h1v1h-1zM1358 287h1v1h-1zM1359 286h1v1h-1zM1360 285h1v1h-1zM1361 284h1v1h-1zM1362 283h1v1h-1zM1363 282h1v1h-1zM1364 281h1v1h-1zM1365 280h1v1h-1zM1366 279h2v1h-2zM1368 278h2v1h-2zM1370 277h1v1h-1zM1371 276h2v1h-2zM1373 275h2v1h-2zM1375 274h2v1h-2zM1377 273h1v1h-1zM1378 272h2v1h-2zM1380 271h2v1h-2zM1382 270h1v1h-1zM1383 269h2v1h-2zM1385 268h2v1h-2zM1387 267h1v1h-1zM1388 266h2v1h-2zM1390 265h2v1h-2zM1392 264h2v1h-2zM1394 263h2v1h-2zM1396 262h2v1h-2zM1398 261h2v1h-2zM1400 260h2v1h-2zM1402 259h2v1h-2zM1404 258h2v1h-2zM1406 257h2v1h-2zM1408 256h3v1h-3zM1411 255h2v1h-2zM1413 254h27v1h-27zM1440 255h2v1h-2zM1442 256h2v1h-2zM1444 257h2v1h-2zM1446 258h3v1h-3zM1449 259h3v1h-3zM1452 260h1v1h-1z" fill="#3cb371"/>
<path d="M0 432h17v1h-17zM17 431h3v1h-3zM20 430h2v1h-2zM22 429h3v1h-3zM25 428h3v1h-3zM28 426h1v2h-1zM29 425h1v1h-1zM30 424h1v1h-1zM31 423h1v1h-1zM32 422h1v1h-1zM33 421h1v1h-1zM34 420h1v1h-1zM35 419h1v1h-1zM36 417h1v2h-1zM37 416h1v1h-1zM38 415h1v1h-1zM39 413h1v2h-1zM40 412h1v1h-1zM41 410h1v2h-1zM42 408h1v2h-1zM43 407h1v1h-1zM44 405h1v2h-1zM45 404h1v1h-1zM46 402h1v2h-1zM47 400h1v2h-1zM48 399h1v1h-1zM49 397h1v2h-1zM50 396h1v1h-1zM51 394h1v2h-1zM52 393h1v1h-1zM53 391h1v2h-1zM54 390h1v1h-1zM55 388h1v2h-1zM56 387h1v1h-1zM57 386h1v1h-1zM58 384h1v2h-1zM59 383h1v1h-1zM60 381h1v2h-1zM61 380h1v1h-1zM62 379h1v1h-1zM63 377h1v2h-1zM64 376h1v1h-1zM65 374h1v2h-1zM66 373h1v1h-1zM67 372h1v1h-1zM68 370h1v2h-1zM69 369h1v1h-1zM70 367h1v2h-1zM71 366h1v1h-1zM72 364h1v2h-1zM73 362h1v2h-1zM74 360h1v2h-1zM75 358h1v2h-1zM76 355h1v3h-1zM77 353h1v2h-1zM78 351h1v2h-1zM79 349h1v2h-1zM80 347h1v2h-1zM81 345h1v2h-1zM82 343h1v2h-1zM83 341h1v2h-1zM84 339h1v2h-1zM85 338h1v1h-1zM86 336h1v2h-1zM87 335h1v1h-1zM88 333h1v2h-1zM89 332h1v1h-1zM90 330h1v2h-1zM91 329h1v1h-1zM92 327h1v2h-1zM93 327h1v1h-1zM94 326h2v1h-2zM96 325h2v1h-2zM98 324h2v1h-2zM100 323h2v1h-2zM102 321h1v2h-1zM103 320h1v1h-1zM104 318h1v2h-1zM105 317h1v1h-1zM106 315h1v2h-1zM107 314h1v1h-1zM108 312h1v2h-1zM109 311h1v1h-1zM110 309h1v2h-1zM111 308h1v1h-1zM112 306h1v2h-1zM113 305h1v1h-1zM114 303h1v2h-1zM115 302h1v1h-1zM116 300h1v2h-1zM117 299h1v1h-1zM118 297h1v2h-1zM119 296h1v1h-1zM120 294h1v2h-1zM121 293h1v1h-1zM122 291h1v2h-1zM123 290h1v1h-1zM124 288h1v2h-1zM125 286h1v2h-1zM126 283h1v3h-1zM127 280h1v3h-1zM128 276h1v4h-1zM129 273h1v3h-1zM130 270h1v3h-1zM131 266h1v4h-1zM132 263h1v3h-1zM133 260h1v3h-1zM134 256h1v4h-1zM135 253h1v3h-1zM136 250h1v3h-1zM137 246h1v4h-1zM138 243h1v3h-1zM139 240h1v3h-1zM140 236h1v4h-1zM141 233h1v3h-1zM142 232h3v1h-3zM145 231h2v1h-2zM147 230h3v1h-3zM150 229h2v1h-2zM152 228h2v1h-2zM154 227h3v1h-3zM157 226h2v1h-2zM159 225h3v1h-3zM162 224h2v1h-2zM164 223h3v1h-3zM167 222h2v1h-2zM169 221h2v1h-2zM171 220h3v1h-3zM174 219h2v1h-2zM176 218h2v1h-2zM178 217h3v1h-3zM181 216h2v1h-2zM183 215h2v1h-2zM185 214h3v1h-3zM188 213h2v1h-2zM190 212h2v1h-2zM192 211h3v1h-3zM195 210h3v1h-3zM198 211h10v1h-10zM208 212h9v1h-9zM217 213h9v1h-9zM226 214h7v1h-7zM233 213h4v1h-4zM237 212h4v1h-4zM241 211h4v1h-4zM245 210h4v1h-4zM249 209h3v1h-3zM252 208h3v1h-3zM255 207h4v1h-4zM259 206h3v1h-3zM262 205h3v1h-3zM265 204h3v1h-3zM268 203h3v1h-3zM271 202h2v1h-2zM273 201h3v1h-3zM276 200h2v1h-2zM278 199h2v1h-2zM280 198h2v1h-2zM282 197h2v1h-2zM284 196h7v1h-7zM291 197h8v1h-8zM299 198h4v1h-4zM303 197h13v1h-13zM316 196h13v1h-13zM329 195h5v1h-5zM334 194h2v1h-2zM336 193h2v1h-2zM338 192h3v1h-3zM341 191h2v1h-2zM343 190h2v1h-2zM345 189h2v1h-2zM347 188h2v1h-2zM349 187h2v1h-2zM351 186h1v1h-1zM352 185h2v1h-2zM354 184h2v1h-2zM356 183h2v1h-2zM358 182h1v1h-1zM359 181h2v1h-2zM361 180h2v1h-2zM363 179h1v1h-1zM364 178h3v1h-3zM367 179h1v2h-1zM368 181h1v2h-1zM369 183h1v1h-1zM370 184h1v2h-1zM371 186h1v2h-1zM372 188h1v1h-1zM373 189h1v2h-1zM374 191h1v1h-1zM375 192h1v2h-1zM376 194h1v1h-1zM377 195h1v1h-1zM378 196h1v1h-1zM379 197h1v1h-1zM380 198h1v1h-1zM381 199h1v1h-1zM382 200h1v1h-1zM383 201h1v1h-1zM384 202h1v1h-1zM385 203h1v1h-1zM386 204h1v1h-1zM387 205h1v1h-1zM388 206h1v1h-1zM389 207h1v1h-1zM390 208h1v1h-1zM391 209h1v1h-1zM392 210h1v1h-1zM393 211h1v1h-1zM394 212h1v1h-1zM395 213h1v1h-1zM396 214h2v1h-2zM398 215h1v1h-1zM399 216h1v1h-1zM400 217h1v1h-1zM401 218h1v1h-1zM402 219h2v1h-2zM404 220h1v1h-1zM405 221h1v1h-1zM406 222h1v1h-1zM407 223h1v1h-1zM408 224h1v1h-1zM409 225h1v1h-1zM410 226h1v1h-1zM411 227h1v1h-1zM412 228h1v1h-1zM413 229h1v1h-1zM414 230h1v1h-1zM415 231h1v1h-1zM416 232h1v1h-1zM417 233h1v1h-1zM418 234h1v2h-1zM419 236h1v1h-1zM420 237h1v1h-1zM421 238h1v1h-1zM422 239h1v1h-1zM423 240h1v1h-1zM424 241h1v1h-1zM425 242h1v1h-1zM426 243h1v1h-1zM427 244h1v1h-1zM428 245h1v1h-1zM429 246h1v1h-1zM430 247h1v1h-1zM431 248h1v1h-1zM432 249h1v1h-1zM433 250h1v1h-1zM434 251h1v1h-1zM435 252h1v1h-1zM436 253h1v1h-1zM437 254h1v1h-1zM438 255h1v1h-1zM439 256h1v1h-1zM440 257h1v1h-1zM441 258h1v1h-1zM442 259h1v1h-1zM443 260h1v1h-1zM444 261h1v1h-1zM445 262h2v1h-2zM447 263h2v1h-2zM449 264h2v1h-2zM451 265h2v1h-2zM453 266h1v1h-1zM454 267h2v1h-2zM456 268h2v1h-2zM458 269h2v1h-2zM460 270h2v1h-2zM462 271h1v1h-1zM463 272h2v1h-2zM465 273h2v1h-2zM467 274h1v1h-1zM468 275h1v1h-1zM469 276h2v1h-2zM471 277h1v1h-1zM472 278h2v1h-2zM474 279h1v1h-1zM475 280h1v1h-1zM476 281h2v1h-2zM478 282h1v1h-1zM479 283h1v1h-1zM480 284h2v1h-2zM482 285h2v1h-2zM484 286h2v1h-2zM486 287h3v1h-3zM489 288h2v1h-2zM491 289h3v1h-3zM494 290h2v1h-2zM496 291h3v1h-3zM499 292h7v1h-7zM506 291h3v1h-3zM509 290h1v1h-1zM510 289h1v1h-1zM511 288h1v1h-1zM512 287h1v1h-1zM513 286h1v1h-1zM514 285h1v1h-1zM515 284h1v1h-1zM516 283h1v1h-1zM517 282h1v1h-1zM518 281h1v1h-1zM519 279h1v2h-1zM520 278h1v1h-1zM521 277h1v1h-1zM522 276h1v1h-1zM523 275h1v1h-1zM524 274h1v1h-1zM525 273h27v1h-27zM552 274h8v1h-8zM560 275h1v1h-1zM561 276h2v1h-2zM563 277h1v1h-1zM564 278h1v1h-1zM565 279h1v1h-1zM566 280h1v1h-1zM567 281h1v1h-1zM568 282h1v1h-1zM569 283h1v1h-1zM570 284h1v1h-1zM571 285h1v1h-1zM572 286h1v1h-1zM573 287h1v1h-1zM574 288h1v1h-1zM575 289h2v1h-2zM577 290h2v1h-2zM579 291h1v1h-1zM580 292h2v1h-2zM582 293h1v1h-1zM583 294h2v1h-2zM585 295h1v1h-1zM586 296h2v1h-2zM588 297h2v1h-2zM590 298h1v1h-1zM591 299h2v1h-2zM593 300h1v1h-1zM594 301h3v1h-3zM597 302h2v1h-2zM599 303h3v1h-3zM602 304h3v1h-3zM605 305h2v1h-2zM607 306h3v1h-3zM610 307h21v1h-21zM631 306h5v1h-5zM636 305h6v1h-6zM642 304h5v1h-5zM647 303h3v1h-3zM650 302h2v1h-2zM652 301h3v1h-3zM655 300h2v1h-2zM657 299h3v1h-3zM660 298h5v1h-5zM665 297h9v1h-9zM674 298h4v1h-4zM678 299h4v1h-4zM682 300h2v1h-2zM684 301h1v1h-1zM685 302h1v1h-1zM686 303h1v1h-1zM687 304h1v1h-1zM688 305h2v1h-2zM690 306h1v1h-1zM691 307h1v1h-1zM692 308h1v1h-1zM693 309h1v1h-1zM694 310h1v2h-1zM695 312h1v1h-1zM696 313h1v1h-1zM697 314h1v2h-1zM698 316h1v1h-1zM699 317h1v2h-1zM700 319h1v1h-1zM701 320h1v1h-1zM702 321h1v2h-1zM703 323h1v2h-1zM704 325h1v3h-1zM705 328h1v3h-1zM706 331h1v3h-1zM707 334h1v3h-1zM708 337h1v3h-1zM709 340h1v3h-1zM710 343h1v3h-1zM711 346h1v2h-1zM712 348h1v2h-1zM713 350h1v3h-1zM714 353h1v2h-1zM715 355h1v2h-1zM716 357h1v2h-1zM717 359h1v3h-1zM718 362h1v2h-1zM719 364h1v2h-1zM720 366h1v2h-1zM721 368h1v2h-1zM722 370h1v2h-1zM723 372h1v2h-1zM724 374h1v1h-1zM725 375h1v2h-1zM726 377h1v2h-1zM727 379h1v2h-1zM728 381h1v1h-1zM729 382h1v2h-1zM730 384h1v2h-1zM731 386h1v2h-1zM732 388h1v1h-1zM733 389h1v2h-1zM734 391h1v1h-1zM735 392h1v2h-1zM736 394h1v2h-1zM737 396h1v1h-1zM738 397h1v2h-1zM739 399h1v1h-1zM740 400h1v2h-1zM741 402h1v1h-1zM742 403h1v1h-1zM743 404h1v1h-1zM744 405h1v1h-1zM745 406h2v1h-2zM747 407h1v1h-1zM748 408h1v1h-1zM749 409h1v1h-1zM750 410h1v1h-1zM751 411h1v1h-1zM752 412h1v1h-1zM753 413h1v1h-1zM754 414h1v1h-1zM755 415h1v1h-1zM756 416h1v1h-1zM757 417h1v1h-1zM758 418h1v1h-1zM759 419h1v1h-1zM760 420h1v1h-1zM761 421h1v1h-1zM762 422h1v1h-1zM763 423h1v1h-1zM764 424h1v1h-1zM765 425h1v1h-1zM766 426h1v1h-1zM767 427h1v1h-1zM768 428h1v1h-1zM769 429h1v1h-1zM770 430h1v2h-1zM771 432h1v1h-1zM772 433h1v1h-1zM773 434h1v1h-1zM774 435h1v1h-1zM775 436h1v1h-1zM776 437h1v1h-1zM777 438h1v2h-1zM778 440h1v1h-1zM779 441h1v1h-1zM780 442h1v1h-1zM781 443h1v1h-1zM782 444h1v1h-1zM783 445h1v2h-1zM784 447h1v2h-1zM785 449h1v2h-1zM786 451h1v2h-1zM787 453h1v2h-1zM788 455h1v2h-1zM789 457h1v2h-1zM790 459h1v2h-1zM791 461h1v3h-1zM792 464h1v2h-1zM793 466h1v2h-1zM794 468h1v2h-1zM795 470h1v2h-1zM796 472h1v2h-1zM797 474h1v2h-1zM798 476h1v2h-1zM799 478h1v3h-1zM800 481h1v2h-1zM801 483h1v2h-1zM802 485h1v2h-1zM803 487h1v2h-1zM804 489h1v2h-1zM805 491h1v3h-1zM806 494h1v2h-1zM807 496h1v2h-1zM808 498h1v2h-1zM809 500h1v2h-1zM810 502h1v3h-1zM811 505h1v2h-1zM812 507h1v3h-1zM813 510h1v2h-1zM814 512h1v3h-1zM815 515h1v2h-1zM816 517h1v3h-1zM817 520h1v2h-1zM818 522h1v3h-1zM819 525h1v2h-1zM820 527h1v2h-1zM821 529h1v2h-1zM822 531h1v2h-1zM823 533h1v2h-1zM824 535h1v1h-1zM825 536h1v2h-1zM826 538h1v2h-1zM827 540h1v2h-1zM828 542h1v1h-1zM829 543h1v2h-1zM830 545h1v2h-1zM831 547h1v1h-1zM832 548h1v2h-1zM833 550h1v2h-1zM834 552h1v1h-1zM835 553h1v2h-1zM836 555h1v2h-1zM837 557h1v1h-1zM838 558h1v2h-1zM839 560h1v2h-1zM840 562h1v2h-1zM841 564h1v2h-1zM842 566h1v2h-1zM843 568h1v2h-1zM844 570h1v1h-1zM845 571h1v2h-1zM846 573h1v2h-1zM847 575h1v2h-1z" fill="#3cb371"/>
<path d="M981 575h1v1h-1zM982 574h1v1h-1zM983 573h1v1h-1zM984 572h1v1h-1zM985 571h1v1h-1zM986 570h1v1h-1zM987 569h1v1h-1zM988 568h1v1h-1zM989 566h1v2h-1zM990 565h1v1h-1zM991 564h1v1h-1zM992 563h1v1h-1zM993 562h1v1h-1zM994 560h1v2h-1zM995 558h1v2h-1zM996 556h1v2h-1zM997 554h1v2h-1zM998 553h1v1h-1zM999 551h1v2h-1zM1000 549h1v2h-1zM1001 547h1v2h-1zM1002 546h1v1h-1zM1003 544h1v2h-1zM1004 542h1v2h-1zM1005 540h1v2h-1zM1006 538h1v2h-1zM1007 535h1v3h-1zM1008 533h1v2h-1zM1009 531h1v2h-1zM1010 528h1v3h-1zM1011 526h1v2h-1zM1012 523h1v3h-1zM1013 521h1v2h-1zM1014 518h1v3h-1zM1015 516h1v2h-1zM1016 514h1v2h-1zM1017 511h1v3h-1zM1018 509h1v2h-1zM1019 506h1v3h-1zM1020 504h1v2h-1zM1021 502h1v2h-1zM1022 499h1v3h-1zM1023 497h1v2h-1zM1024 494h1v3h-1zM1025 492h1v2h-1zM1026 490h1v2h-1zM1027 487h1v3h-1zM1028 485h1v2h-1zM1029 483h1v2h-1zM1030 480h1v3h-1zM1031 478h1v2h-1zM1032 476h1v2h-1zM1033 473h1v3h-1zM1034 471h1v2h-1zM1035 469h1v2h-1zM1036 467h1v2h-1zM1037 464h1v3h-1zM1038 462h1v2h-1zM1039 460h1v2h-1zM1040 458h1v2h-1zM1041 455h1v3h-1zM1042 453h1v2h-1zM1043 451h1v2h-1zM1044 449h1v2h-1zM1045 446h1v3h-1zM1046 445h2v1h-2zM1048 444h1v1h-1zM1049 443h1v1h-1zM1050 442h2v1h-2zM1052 441h4v1h-4zM1056 442h2v1h-2zM1058 443h2v1h-2zM1060 444h3v1h-3zM1063 445h2v1h-2zM1065 446h3v1h-3zM1068 447h2v1h-2zM1070 448h16v1h-16zM1086 449h4v1h-4zM1090 450h3v1h-3zM1093 451h4v1h-4zM1097 452h21v1h-21zM1118 453h9v1h-9zM1127 452h3v1h-3zM1130 451h3v1h-3zM1133 450h3v1h-3zM1136 449h4v1h-4zM1140 448h3v1h-3zM1143 447h2v1h-2zM1145 446h2v1h-2zM1147 445h3v1h-3zM1150 444h2v1h-2zM1152 443h2v1h-2zM1154 442h2v1h-2zM1156 441h9v1h-9zM1165 442h7v1h-7zM1172 443h6v1h-6zM1178 444h6v1h-6zM1184 445h4v1h-4zM1188 444h8v1h-8zM1196 443h2v1h-2zM1198 442h2v1h-2zM1200 441h2v1h-2zM1202 440h2v1h-2zM1204 438h1v2h-1zM1205 437h1v1h-1zM1206 436h1v1h-1zM1207 435h1v1h-1zM1208 433h1v2h-1zM1209 432h1v1h-1zM1210 431h1v1h-1zM1211 430h1v1h-1zM1212 429h1v1h-1zM1213 427h1v2h-1zM1214 426h1v1h-1zM1215 425h1v1h-1zM1216 423h1v2h-1zM1217 422h1v1h-1zM1218 420h1v2h-1zM1219 418h1v2h-1zM1220 417h1v1h-1zM1221 415h1v2h-1zM1222 413h1v2h-1zM1223 412h1v1h-1zM1224 410h1v2h-1zM1225 409h1v1h-1zM1226 407h1v2h-1zM1227 405h1v2h-1zM1228 404h1v1h-1zM1229 402h1v2h-1zM1230 400h1v2h-1zM1231 399h1v1h-1zM1232 398h1v1h-1zM1233 396h1v2h-1zM1234 395h1v1h-1zM1235 394h1v1h-1zM1236 392h1v2h-1zM1237 391h1v1h-1zM1238 390h1v1h-1zM1239 388h1v2h-1zM1240 387h1v1h-1zM1241 386h1v1h-1zM1242 384h1v2h-1zM1243 383h1v1h-1zM1244 382h1v1h-1zM1245 381h1v1h-1zM1246 380h7v1h-7zM1253 381h21v1h-21zM1274 382h1v1h-1zM1275 383h1v1h-1zM1276 384h1v1h-1zM1277 385h1v1h-1zM1278 386h1v1h-1zM1279 387h1v1h-1zM1280 388h1v1h-1zM1281 389h2v1h-2zM1283 390h1v1h-1zM1284 391h1v1h-1zM1285 392h1v1h-1zM1286 393h2v1h-2zM1288 394h1v1h-1zM1289 395h2v1h-2zM1291 396h1v1h-1zM1292 397h2v1h-2zM1294 398h2v1h-2zM1296 399h2v1h-2zM1298 400h3v1h-3zM1301 401h3v1h-3zM1304 402h20v1h-20zM1324 403h1v1h-1zM1325 404h2v1h-2zM1327 405h1v1h-1zM1328 406h2v1h-2zM1330 407h1v1h-1zM1331 408h2v1h-2zM1333 409h1v1h-1zM1334 410h2v1h-2zM1336 411h2v1h-2zM1338 412h1v1h-1zM1339 413h4v1h-4zM1343 412h1v1h-1zM1344 411h2v1h-2zM1346 410h1v1h-1zM1347 409h1v1h-1zM1348 408h2v1h-2zM1350 407h1v1h-1zM1351 406h2v1h-2zM1353 405h1v1h-1zM1354 404h1v1h-1zM1355 402h1v2h-1zM1356 401h1v1h-1zM1357 400h1v1h-1zM1358 398h1v2h-1zM1359 397h1v1h-1zM1360 396h1v1h-1zM1361 394h1v2h-1zM1362 393h1v1h-1zM1363 392h1v1h-1zM1364 390h1v2h-1zM1365 389h1v1h-1zM1366 387h1v2h-1zM1367 386h1v1h-1zM1368 385h1v1h-1zM1369 383h1v2h-1zM1370 381h1v2h-1zM1371 380h1v1h-1zM1372 378h1v2h-1zM1373 376h1v2h-1zM1374 375h1v1h-1zM1375 373h1v2h-1zM1376 371h1v2h-1zM1377 369h1v2h-1zM1378 368h1v1h-1zM1379 366h1v2h-1zM1380 364h1v2h-1zM1381 363h1v1h-1zM1382 361h1v2h-1zM1383 359h1v2h-1zM1384 358h1v1h-1zM1385 356h1v2h-1zM1386 354h1v2h-1zM1387 352h1v2h-1zM1388 351h1v1h-1zM1389 349h1v2h-1zM1390 348h1v1h-1zM1391 347h1v1h-1zM1392 346h1v1h-1zM1393 345h1v1h-1zM1394 344h1v1h-1zM1395 343h1v1h-1zM1396 342h1v1h-1zM1397 341h1v1h-1zM1398 340h1v1h-1zM1399 338h1v2h-1zM1400 336h1v2h-1zM1401 335h1v1h-1zM1402 333h1v2h-1zM1403 332h1v1h-1zM1404 330h1v2h-1zM1405 328h1v2h-1zM1406 327h1v1h-1zM1407 326h1v1h-1zM1408 325h1v1h-1zM1409 324h1v1h-1zM1410 322h1v2h-1zM1411 321h1v1h-1zM1412 320h1v1h-1zM1413 319h3v1h-3zM1416 318h11v1h-11zM1427 319h6v1h-6zM1433 320h4v1h-4zM1437 321h1v1h-1zM1438 322h1v1h-1zM1439 323h1v1h-1zM1440 324h1v1h-1zM1441 325h1v1h-1zM1442 326h1v1h-1zM1443 327h1v1h-1zM1444 328h1v1h-1zM1445 329h1v1h-1zM1446 330h1v1h-1zM1447 331h1v1h-1zM1448 332h1v1h-1zM1449 333h1v1h-1zM1450 334h1v1h-1zM1451 335h1v1h-1zM1452 336h1v1h-1z" fill="#3cb371"/>
<rect x="5" y="181" width="1" height="16" fill="#000"/>
<rect x="3" y="184" width="5" height="5" fill="#000"/>
<rect x="13" y="177" width="1" height="23" fill="#000"/>
<rect x="11" y="187" width="5" height="11" fill="#000"/>
<rect x="21" y="170" width="1" height="43" fill="#000"/>
<rect x="19" y="198" width="5" height="3" fill="#000"/>
<rect x="29" y="170" width="1" height="46" fill="#000"/>
<rect x="27" y="192" width="5" height="8" fill="#000"/>
<rect x="28" y="193" width="3" height="6" fill="#fff"/>
<rect x="37" y="182" width="1" height="55" fill="#000"/>
<rect x="35" y="186" width="5" height="7" fill="#000"/>
<rect x="36" y="187" width="3" height="5" fill="#fff"/>
<rect x="45" y="149" width="1" height="90" fill="#000"/>
<rect x="43" y="152" width="5" height="33" fill="#000"/>
<rect x="44" y="153" width="3" height="31" fill="#fff"/>
<rect x="53" y="149" width="1" height="21" fill="#000"/>
<rect x="51" y="153" width="5" height="4" fill="#000"/>
<rect x="61" y="124" width="1" height="43" fill="#000"/>
<rect x="59" y="127" width="5" height="29" fill="#000"/>
<rect x="60" y="128" width="3" height="27" fill="#fff"/>
<rect x="69" y="103" width="1" height="28" fill="#000"/>
<rect x="67" y="112" width="5" height="17" fill="#000"/>
<rect x="68" y="113" width="3" height="15" fill="#fff"/>
<rect x="77" y="96" width="1" height="21" fill="#000"/>
<rect x="75" y="98" width="5" height="15" fill="#000"/>
<rect x="76" y="99" width="3" height="13" fill="#fff"/>
<rect x="85" y="88" width="1" height="12" fill="#000"/>
<rect x="83" y="90" width="5" height="8" fill="#000"/>
<rect x="84" y="91" width="3" height="6" fill="#fff"/>
<rect x="109" y="95" width="1" height="14" fill="#000"/>
<rect x="107" y="97" width="5" height="11" fill="#000"/>
<rect x="117" y="96" width="1" height="22" fill="#000"/>
<rect x="115" y="98" width="5" height="8" fill="#000"/>
<rect x="116" y="99" width="3" height="6" fill="#fff"/>
<rect x="133" y="95" width="1" height="82" fill="#000"/>
<rect x="131" y="97" width="5" height="51" fill="#000"/>
<rect x="141" y="146" width="1" height="35" fill="#000"/>
<rect x="139" y="147" width="5" height="29" fill="#000"/>
<rect x="149" y="161" width="1" height="12" fill="#000"/>
<rect x="147" y="162" width="5" height="8" fill="#000"/>
<rect x="157" y="157" width="1" height="26" fill="#000"/>
<rect x="155" y="165" width="5" height="5" fill="#000"/>
<rect x="156" y="166" width="3" height="3" fill="#fff"/>
<rect x="165" y="124" width="1" height="46" fill="#000"/>
<rect x="163" y="140" width="5" height="26" fill="#000"/>
<rect x="164" y="141" width="3" height="24" fill="#fff"/>
<rect x="173" y="120" width="1" height="53" fill="#000"/>
<rect x="171" y="141" width="5" height="23" fill="#000"/>
<rect x="181" y="139" width="1" height="47" fill="#000"/>
<rect x="179" y="164" width="5" height="21" fill="#000"/>
<rect x="189" y="166" width="1" height="31" fill="#000"/>
<rect x="187" y="175" width="5" height="10" fill="#000"/>
<rect x="188" y="176" width="3" height="8" fill="#fff"/>
<rect x="197" y="172" width="1" height="25" fill="#000"/>
<rect x="195" y="175" width="5" height="2" fill="#000"/>
<rect x="205" y="162" width="1" height="20" fill="#000"/>
<rect x="203" y="173" width="5" height="4" fill="#000"/>
<rect x="204" y="174" width="3" height="2" fill="#fff"/>
<rect x="213" y="135" width="1" height="45" fill="#000"/>
<rect x="211" y="146" width="5" height="28" fill="#000"/>
<rect x="212" y="147" width="3" height="26" fill="#fff"/>
<rect x="221" y="112" width="1" height="44" fill="#000"/>
<rect x="219" y="120" width="5" height="25" fill="#000"/>
<rect x="220" y="121" width="3" height="23" fill="#fff"/>
<rect x="229" y="120" width="1" height="67" fill="#000"/>
<rect x="227" y="120" width="5" height="37" fill="#000"/>
<rect x="237" y="138" width="1" height="21" fill="#000"/>
<rect x="235" y="138" width="5" height="18" fill="#000"/>
<rect x="236" y="139" width="3" height="16" fill="#fff"/>
<rect x="245" y="139" width="1" height="16" fill="#000"/>
<rect x="243" y="139" width="5" height="2" fill="#000"/>
<rect x="253" y="119" width="1" height="45" fill="#000"/>
<rect x="251" y="130" width="5" height="12" fill="#000"/>
<rect x="252" y="131" width="3" height="10" fill="#fff"/>
<rect x="261" y="101" width="1" height="35" fill="#000"/>
<rect x="259" y="107" width="5" height="23" fill="#000"/>
<rect x="260" y="108" width="3" height="21" fill="#fff"/>
<rect x="269" y="106" width="1" height="34" fill="#000"/>
<rect x="267" y="108" width="5" height="19" fill="#000"/>
<rect x="277" y="86" width="1" height="78" fill="#000"/>
<rect x="275" y="126" width="5" height="23" fill="#000"/>
<rect x="285" y="147" width="1" height="33" fill="#000"/>
<rect x="283" y="148" width="5" height="32" fill="#000"/>
<rect x="293" y="176" width="1" height="8" fill="#000"/>
<rect x="291" y="178" width="5" height="3" fill="#000"/>
<rect x="292" y="179" width="3" height="1" fill="#fff"/>
<rect x="301" y="167" width="1" height="27" fill="#000"/>
<rect x="299" y="176" width="5" height="2" fill="#000"/>
<rect x="309" y="131" width="1" height="69" fill="#000"/>
<rect x="307" y="131" width="5" height="45" fill="#000"/>
<rect x="308" y="132" width="3" height="43" fill="#fff"/>
<rect x="317" y="102" width="1" height="60" fill="#000"/>
<rect x="315" y="130" width="5" height="2" fill="#000"/>
<rect x="325" y="98" width="1" height="67" fill="#000"/>
<rect x="323" y="126" width="5" height="5" fill="#000"/>
<rect x="324" y="127" width="3" height="3" fill="#fff"/>
<rect x="333" y="112" width="1" height="21" fill="#000"/>
<rect x="331" y="122" width="5" height="5" fill="#000"/>
<rect x="332" y="123" width="3" height="3" fill="#fff"/>
<rect x="341" y="121" width="1" height="9" fill="#000"/>
<rect x="339" y="122" width="5" height="6" fill="#000"/>
<rect x="349" y="125" width="1" height="19" fill="#000"/>
<rect x="347" y="127" width="5" height="9" fill="#000"/>
<rect x="357" y="119" width="1" height="32" fill="#000"/>
<rect x="355" y="135" width="5" height="1" fill="#000"/>
<rect x="365" y="123" width="1" height="35" fill="#000"/>
<rect x="363" y="135" width="5" height="7" fill="#000"/>
<rect x="373" y="126" width="1" height="90" fill="#000"/>
<rect x="371" y="140" width="5" height="63" fill="#000"/>
<rect x="381" y="193" width="1" height="19" fill="#000"/>
<rect x="379" y="198" width="5" height="5" fill="#000"/>
<rect x="380" y="199" width="3" height="3" fill="#fff"/>
<rect x="389" y="204" width="1" height="17" fill="#000"/>
<rect x="387" y="206" width="5" height="3" fill="#000"/>
<rect x="397" y="205" width="1" height="20" fill="#000"/>
<rect x="395" y="206" width="5" height="2" fill="#000"/>
<rect x="405" y="176" width="1" height="36" fill="#000"/>
<rect x="403" y="206" width="5" height="5" fill="#000"/>
<rect x="413" y="171" width="1" height="60" fill="#000"/>
<rect x="411" y="196" width="5" height="15" fill="#000"/>
<rect x="412" y="197" width="3" height="13" fill="#fff"/>
<rect x="421" y="178" width="1" height="58" fill="#000"/>
<rect x="419" y="197" width="5" height="33" fill="#000"/>
<rect x="429" y="219" width="1" height="24" fill="#000"/>
<rect x="427" y="230" width="5" height="6" fill="#000"/>
<rect x="437" y="231" width="1" height="10" fill="#000"/>
<rect x="435" y="235" width="5" height="1" fill="#000"/>
<rect x="445" y="229" width="1" height="21" fill="#000"/>
<rect x="443" y="235" width="5" height="1" fill="#000"/>
<rect x="453" y="216" width="1" height="29" fill="#000"/>
<rect x="451" y="228" width="5" height="7" fill="#000"/>
<rect x="452" y="229" width="3" height="5" fill="#fff"/>
<rect x="461" y="200" width="1" height="30" fill="#000"/>
<rect x="459" y="215" width="5" height="12" fill="#000"/>
<rect x="460" y="216" width="3" height="10" fill="#fff"/>
<rect x="469" y="206" width="1" height="49" fill="#000"/>
<rect x="467" y="215" width="5" height="33" fill="#000"/>
<rect x="477" y="239" width="1" height="22" fill="#000"/>
<rect x="475" y="246" width="5" height="6" fill="#000"/>
<rect x="485" y="242" width="1" height="16" fill="#000"/>
<rect x="483" y="250" width="5" height="2" fill="#000"/>
<rect x="493" y="249" width="1" height="24" fill="#000"/>
<rect x="491" y="250" width="5" height="10" fill="#000"/>
<rect x="501" y="253" width="1" height="29" fill="#000"/>
<rect x="499" y="259" width="5" height="17" fill="#000"/>
<rect x="509" y="256" width="1" height="39" fill="#000"/>
<rect x="507" y="258" width="5" height="18" fill="#000"/>
<rect x="508" y="259" width="3" height="16" fill="#fff"/>
<rect x="517" y="196" width="1" height="66" fill="#000"/>
<rect x="515" y="210" width="5" height="47" fill="#000"/>
<rect x="516" y="211" width="3" height="45" fill="#fff"/>
<rect x="525" y="180" width="1" height="34" fill="#000"/>
<rect x="523" y="202" width="5" height="8" fill="#000"/>
<rect x="524" y="203" width="3" height="6" fill="#fff"/>
<rect x="533" y="203" width="1" height="13" fill="#000"/>
<rect x="531" y="203" width="5" height="7" fill="#000"/>
<rect x="541" y="198" width="1" height="15" fill="#000"/>
<rect x="539" y="198" width="5" height="11" fill="#000"/>
<rect x="540" y="199" width="3" height="9" fill="#fff"/>
<rect x="549" y="192" width="1" height="32" fill="#000"/>
<rect x="547" y="194" width="5" height="5" fill="#000"/>
<rect x="548" y="195" width="3" height="3" fill="#fff"/>
<rect x="557" y="193" width="1" height="49" fill="#000"/>
<rect x="555" y="193" width="5" height="42" fill="#000"/>
<rect x="565" y="223" width="1" height="45" fill="#000"/>
<rect x="563" y="233" width="5" height="22" fill="#000"/>
<rect x="573" y="251" width="1" height="55" fill="#000"/>
<rect x="571" y="254" width="5" height="37" fill="#000"/>
<rect x="581" y="279" width="1" height="22" fill="#000"/>
<rect x="579" y="283" width="5" height="7" fill="#000"/>
<rect x="580" y="284" width="3" height="5" fill="#fff"/>
<rect x="589" y="275" width="1" height="19" fill="#000"/>
<rect x="587" y="279" width="5" height="5" fill="#000"/>
<rect x="588" y="280" width="3" height="3" fill="#fff"/>
<rect x="597" y="276" width="1" height="26" fill="#000"/>
<rect x="595" y="279" width="5" height="9" fill="#000"/>
<rect x="605" y="267" width="1" height="44" fill="#000"/>
<rect x="603" y="273" width="5" height="14" fill="#000"/>
<rect x="604" y="274" width="3" height="12" fill="#fff"/>
<rect x="613" y="214" width="1" height="60" fill="#000"/>
<rect x="611" y="222" width="5" height="52" fill="#000"/>
<rect x="612" y="223" width="3" height="50" fill="#fff"/>
<rect x="621" y="197" width="1" height="27" fill="#000"/>
<rect x="619" y="204" width="5" height="19" fill="#000"/>
<rect x="620" y="205" width="3" height="17" fill="#fff"/>
<rect x="629" y="205" width="1" height="10" fill="#000"/>
<rect x="627" y="208" width="5" height="6" fill="#000"/>
<rect x="637" y="208" width="1" height="22" fill="#000"/>
<rect x="635" y="212" width="5" height="16" fill="#000"/>
<rect x="645" y="214" width="1" height="33" fill="#000"/>
<rect x="643" y="224" width="5" height="3" fill="#000"/>
<rect x="644" y="225" width="3" height="1" fill="#fff"/>
<rect x="653" y="193" width="1" height="41" fill="#000"/>
<rect x="651" y="210" width="5" height="15" fill="#000"/>
<rect x="652" y="211" width="3" height="13" fill="#fff"/>
<rect x="661" y="200" width="1" height="61" fill="#000"/>
<rect x="659" y="208" width="5" height="27" fill="#000"/>
<rect x="669" y="227" width="1" height="23" fill="#000"/>
<rect x="667" y="233" width="5" height="13" fill="#000"/>
<rect x="677" y="238" width="1" height="12" fill="#000"/>
<rect x="675" y="243" width="5" height="3" fill="#000"/>
<rect x="676" y="244" width="3" height="1" fill="#fff"/>
<rect x="685" y="243" width="1" height="36" fill="#000"/>
<rect x="683" y="243" width="5" height="35" fill="#000"/>
<rect x="693" y="257" width="1" height="58" fill="#000"/>
<rect x="691" y="277" width="5" height="22" fill="#000"/>
<rect x="701" y="279" width="1" height="39" fill="#000"/>
<rect x="699" y="298" width="5" height="16" fill="#000"/>
<rect x="709" y="304" width="1" height="83" fill="#000"/>
<rect x="707" y="313" width="5" height="69" fill="#000"/>
<rect x="717" y="371" width="1" height="27" fill="#000"/>
<rect x="715" y="380" width="5" height="1" fill="#000"/>
<rect x="725" y="372" width="1" height="17" fill="#000"/>
<rect x="723" y="378" width="5" height="3" fill="#000"/>
<rect x="724" y="379" width="3" height="1" fill="#fff"/>
<rect x="733" y="352" width="1" height="31" fill="#000"/>
<rect x="731" y="361" width="5" height="18" fill="#000"/>
<rect x="732" y="362" width="3" height="16" fill="#fff"/>
<rect x="741" y="358" width="1" height="33" fill="#000"/>
<rect x="739" y="360" width="5" height="17" fill="#000"/>
<rect x="749" y="339" width="1" height="42" fill="#000"/>
<rect x="747" y="339" width="5" height="38" fill="#000"/>
<rect x="748" y="340" width="3" height="36" fill="#fff"/>
<rect x="757" y="337" width="1" height="34" fill="#000"/>
<rect x="755" y="340" width="5" height="30" fill="#000"/>
<rect x="765" y="317" width="1" height="55" fill="#000"/>
<rect x="763" y="356" width="5" height="14" fill="#000"/>
<rect x="764" y="357" width="3" height="12" fill="#fff"/>
<rect x="773" y="354" width="1" height="21" fill="#000"/>
<rect x="771" y="355" width="5" height="20" fill="#000"/>
<rect x="781" y="365" width="1" height="51" fill="#000"/>
<rect x="779" y="373" width="5" height="32" fill="#000"/>
<rect x="789" y="401" width="1" height="44" fill="#000"/>
<rect x="787" y="405" width="5" height="31" fill="#000"/>
<rect x="797" y="433" width="1" height="46" fill="#000"/>
<rect x="795" y="436" width="5" height="21" fill="#000"/>
<rect x="805" y="439" width="1" height="57" fill="#000"/>
<rect x="803" y="457" width="5" height="14" fill="#000"/>
<rect x="813" y="467" width="1" height="56" fill="#000"/>
<rect x="811" y="470" width="5" height="50" fill="#000"/>
<rect x="821" y="513" width="1" height="17" fill="#000"/>
<rect x="819" y="520" width="5" height="6" fill="#000"/>
<rect x="829" y="511" width="1" height="31" fill="#000"/>
<rect x="827" y="524" width="5" height="3" fill="#000"/>
<rect x="837" y="518" width="1" height="36" fill="#000"/>
<rect x="835" y="526" width="5" height="16" fill="#000"/>
<rect x="845" y="526" width="1" height="32" fill="#000"/>
<rect x="843" y="542" width="5" height="9" fill="#000"/>
<rect x="853" y="517" width="1" height="47" fill="#000"/>
<rect x="851" y="530" width="5" height="20" fill="#000"/>
<rect x="852" y="531" width="3" height="18" fill="#fff"/>
<rect x="861" y="520" width="1" height="21" fill="#000"/>
<rect x="859" y="531" width="5" height="6" fill="#000"/>
<rect x="869" y="529" width="1" height="10" fill="#000"/>
<rect x="867" y="533" width="5" height="4" fill="#000"/>
<rect x="868" y="534" width="3" height="2" fill="#fff"/>
<rect x="877" y="492" width="1" height="41" fill="#000"/>
<rect x="875" y="501" width="5" height="32" fill="#000"/>
<rect x="876" y="502" width="3" height="30" fill="#fff"/>
<rect x="885" y="482" width="1" height="41" fill="#000"/>
<rect x="883" y="499" width="5" height="3" fill="#000"/>
<rect x="884" y="500" width="3" height="1" fill="#fff"/>
<rect x="893" y="451" width="1" height="56" fill="#000"/>
<rect x="891" y="456" width="5" height="44" fill="#000"/>
<rect x="892" y="457" width="3" height="42" fill="#fff"/>
<rect x="901" y="403" width="1" height="56" fill="#000"/>
<rect x="899" y="410" width="5" height="46" fill="#000"/>
<rect x="900" y="411" width="3" height="44" fill="#fff"/>
<rect x="909" y="389" width="1" height="23" fill="#000"/>
<rect x="907" y="394" width="5" height="17" fill="#000"/>
<rect x="908" y="395" width="3" height="15" fill="#fff"/>
<rect x="917" y="391" width="1" height="26" fill="#000"/>
<rect x="915" y="393" width="5" height="9" fill="#000"/>
<rect x="925" y="397" width="1" height="21" fill="#000"/>
<rect x="923" y="402" width="5" height="8" fill="#000"/>
<rect x="933" y="368" width="1" height="46" fill="#000"/>
<rect x="931" y="409" width="5" height="1" fill="#000"/>
<rect x="941" y="388" width="1" height="53" fill="#000"/>
<rect x="939" y="404" width="5" height="7" fill="#000"/>
<rect x="940" y="405" width="3" height="5" fill="#fff"/>
<rect x="949" y="368" width="1" height="56" fill="#000"/>
<rect x="947" y="404" width="5" height="9" fill="#000"/>
<rect x="957" y="389" width="1" height="28" fill="#000"/>
<rect x="955" y="389" width="5" height="24" fill="#000"/>
<rect x="956" y="390" width="3" height="22" fill="#fff"/>
<rect x="965" y="389" width="1" height="14" fill="#000"/>
<rect x="963" y="389" width="5" height="11" fill="#000"/>
<rect x="973" y="389" width="1" height="25" fill="#000"/>
<rect x="971" y="399" width="5" height="9" fill="#000"/>
<rect x="981" y="396" width="1" height="28" fill="#000"/>
<rect x="979" y="407" width="5" height="1" fill="#000"/>
<rect x="989" y="374" width="1" height="43" fill="#000"/>
<rect x="987" y="407" width="5" height="5" fill="#000"/>
<rect x="997" y="383" width="1" height="54" fill="#000"/>
<rect x="995" y="403" width="5" height="9" fill="#000"/>
<rect x="996" y="404" width="3" height="7" fill="#fff"/>
<rect x="1005" y="342" width="1" height="63" fill="#000"/>
<rect x="1003" y="351" width="5" height="52" fill="#000"/>
<rect x="1004" y="352" width="3" height="50" fill="#fff"/>
<rect x="1013" y="344" width="1" height="14" fill="#000"/>
<rect x="1011" y="345" width="5" height="7" fill="#000"/>
<rect x="1012" y="346" width="3" height="5" fill="#fff"/>
<rect x="1021" y="341" width="1" height="25" fill="#000"/>
<rect x="1019" y="346" width="5" height="17" fill="#000"/>
<rect x="1029" y="352" width="1" height="30" fill="#000"/>
<rect x="1027" y="362" width="5" height="7" fill="#000"/>
<rect x="1037" y="365" width="1" height="26" fill="#000"/>
<rect x="1035" y="368" width="5" height="19" fill="#000"/>
<rect x="1045" y="383" width="1" height="37" fill="#000"/>
<rect x="1043" y="385" width="5" height="31" fill="#000"/>
<rect x="1053" y="410" width="1" height="37" fill="#000"/>
<rect x="1051" y="416" width="5" height="16" fill="#000"/>
<rect x="1061" y="428" width="1" height="10" fill="#000"/>
<rect x="1059" y="431" width="5" height="2" fill="#000"/>
<rect x="1069" y="432" width="1" height="27" fill="#000"/>
<rect x="1067" y="432" width="5" height="4" fill="#000"/>
<rect x="1077" y="403" width="1" height="36" fill="#000"/>
<rect x="1075" y="410" width="5" height="26" fill="#000"/>
<rect x="1076" y="411" width="3" height="24" fill="#fff"/>
<rect x="1085" y="403" width="1" height="37" fill="#000"/>
<rect x="1083" y="405" width="5" height="6" fill="#000"/>
<rect x="1084" y="406" width="3" height="4" fill="#fff"/>
<rect x="1093" y="323" width="1" height="107" fill="#000"/>
<rect x="1091" y="341" width="5" height="63" fill="#000"/>
<rect x="1092" y="342" width="3" height="61" fill="#fff"/>
<rect x="1101" y="325" width="1" height="23" fill="#000"/>
<rect x="1099" y="340" width="5" height="1" fill="#000"/>
<rect x="1109" y="343" width="1" height="8" fill="#000"/>
<rect x="1107" y="345" width="5" height="4" fill="#000"/>
<rect x="1117" y="331" width="1" height="26" fill="#000"/>
<rect x="1115" y="338" width="5" height="10" fill="#000"/>
<rect x="1116" y="339" width="3" height="8" fill="#fff"/>
<rect x="1125" y="331" width="1" height="33" fill="#000"/>
<rect x="1123" y="339" width="5" height="3" fill="#000"/>
<rect x="1133" y="335" width="1" height="33" fill="#000"/>
<rect x="1131" y="342" width="5" height="10" fill="#000"/>
<rect x="1141" y="341" width="1" height="46" fill="#000"/>
<rect x="1139" y="351" width="5" height="4" fill="#000"/>
<rect x="1149" y="341" width="1" height="20" fill="#000"/>
<rect x="1147" y="350" width="5" height="5" fill="#000"/>
<rect x="1148" y="351" width="3" height="3" fill="#fff"/>
<rect x="1157" y="349" width="1" height="11" fill="#000"/>
<rect x="1155" y="351" width="5" height="3" fill="#000"/>
<rect x="1165" y="328" width="1" height="30" fill="#000"/>
<rect x="1163" y="329" width="5" height="26" fill="#000"/>
<rect x="1164" y="330" width="3" height="24" fill="#fff"/>
<rect x="1173" y="296" width="1" height="37" fill="#000"/>
<rect x="1171" y="319" width="5" height="11" fill="#000"/>
<rect x="1172" y="320" width="3" height="9" fill="#fff"/>
<rect x="1181" y="308" width="1" height="45" fill="#000"/>
<rect x="1179" y="313" width="5" height="7" fill="#000"/>
<rect x="1180" y="314" width="3" height="5" fill="#fff"/>
<rect x="1189" y="288" width="1" height="87" fill="#000"/>
<rect x="1187" y="313" width="5" height="56" fill="#000"/>
<rect x="1197" y="352" width="1" height="21" fill="#000"/>
<rect x="1195" y="367" width="5" height="1" fill="#000"/>
<rect x="1205" y="353" width="1" height="16" fill="#000"/>
<rect x="1203" y="362" width="5" height="6" fill="#000"/>
<rect x="1204" y="363" width="3" height="4" fill="#fff"/>
<rect x="1213" y="357" width="1" height="34" fill="#000"/>
<rect x="1211" y="361" width="5" height="21" fill="#000"/>
<rect x="1221" y="344" width="1" height="46" fill="#000"/>
<rect x="1219" y="356" width="5" height="27" fill="#000"/>
<rect x="1220" y="357" width="3" height="25" fill="#fff"/>
<rect x="1229" y="344" width="1" height="29" fill="#000"/>
<rect x="1227" y="355" width="5" height="2" fill="#000"/>
<rect x="1237" y="300" width="1" height="56" fill="#000"/>
<rect x="1235" y="312" width="5" height="44" fill="#000"/>
<rect x="1236" y="313" width="3" height="42" fill="#fff"/>
<rect x="1245" y="306" width="1" height="35" fill="#000"/>
<rect x="1243" y="312" width="5" height="27" fill="#000"/>
<rect x="1253" y="333" width="1" height="10" fill="#000"/>
<rect x="1251" y="336" width="5" height="3" fill="#000"/>
<rect x="1252" y="337" width="3" height="1" fill="#fff"/>
<rect x="1261" y="324" width="1" height="19" fill="#000"/>
<rect x="1259" y="333" width="5" height="4" fill="#000"/>
<rect x="1260" y="334" width="3" height="2" fill="#fff"/>
<rect x="1269" y="309" width="1" height="29" fill="#000"/>
<rect x="1267" y="312" width="5" height="22" fill="#000"/>
<rect x="1268" y="313" width="3" height="20" fill="#fff"/>
<rect x="1277" y="296" width="1" height="31" fill="#000"/>
<rect x="1275" y="311" width="5" height="3" fill="#000"/>
<rect x="1276" y="312" width="3" height="1" fill="#fff"/>
<rect x="1285" y="249" width="1" height="74" fill="#000"/>
<rect x="1283" y="266" width="5" height="46" fill="#000"/>
<rect x="1284" y="267" width="3" height="44" fill="#fff"/>
<rect x="1293" y="244" width="1" height="22" fill="#000"/>
<rect x="1291" y="249" width="5" height="17" fill="#000"/>
<rect x="1292" y="250" width="3" height="15" fill="#fff"/>
<rect x="1301" y="245" width="1" height="9" fill="#000"/>
<rect x="1299" y="250" width="5" height="2" fill="#000"/>
<rect x="1309" y="241" width="1" height="14" fill="#000"/>
<rect x="1307" y="249" width="5" height="3" fill="#000"/>
<rect x="1317" y="247" width="1" height="18" fill="#000"/>
<rect x="1315" y="251" width="5" height="13" fill="#000"/>
<rect x="1325" y="242" width="1" height="33" fill="#000"/>
<rect x="1323" y="254" width="5" height="11" fill="#000"/>
<rect x="1324" y="255" width="3" height="9" fill="#fff"/>
<rect x="1333" y="198" width="1" height="71" fill="#000"/>
<rect x="1331" y="215" width="5" height="39" fill="#000"/>
<rect x="1332" y="216" width="3" height="37" fill="#fff"/>
<rect x="1341" y="174" width="1" height="44" fill="#000"/>
<rect x="1339" y="192" width="5" height="24" fill="#000"/>
<rect x="1340" y="193" width="3" height="22" fill="#fff"/>
<rect x="1349" y="212" width="1" height="10" fill="#000"/>
<rect x="1347" y="215" width="5" height="6" fill="#000"/>
<rect x="1357" y="217" width="1" height="16" fill="#000"/>
<rect x="1355" y="221" width="5" height="8" fill="#000"/>
<rect x="1365" y="223" width="1" height="27" fill="#000"/>
<rect x="1363" y="228" width="5" height="19" fill="#000"/>
<rect x="1373" y="235" width="1" height="22" fill="#000"/>
<rect x="1371" y="236" width="5" height="8" fill="#000"/>
<rect x="1372" y="237" width="3" height="6" fill="#fff"/>
<rect x="1381" y="235" width="1" height="39" fill="#000"/>
<rect x="1379" y="235" width="5" height="27" fill="#000"/>
<rect x="1389" y="249" width="1" height="13" fill="#000"/>
<rect x="1387" y="252" width="5" height="10" fill="#000"/>
<rect x="1388" y="253" width="3" height="8" fill="#fff"/>
<rect x="1397" y="243" width="1" height="11" fill="#000"/>
<rect x="1395" y="246" width="5" height="7" fill="#000"/>
<rect x="1396" y="247" width="3" height="5" fill="#fff"/>
<rect x="1405" y="222" width="1" height="25" fill="#000"/>
<rect x="1403" y="234" width="5" height="12" fill="#000"/>
<rect x="1404" y="235" width="3" height="10" fill="#fff"/>
<rect x="1413" y="226" width="1" height="45" fill="#000"/>
<rect x="1411" y="234" width="5" height="21" fill="#000"/>
<rect x="1421" y="254" width="1" height="87" fill="#000"/>
<rect x="1419" y="254" width="5" height="79" fill="#000"/>
<rect x="1429" y="298" width="1" height="43" fill="#000"/>
<rect x="1427" y="310" width="5" height="22" fill="#000"/>
<rect x="1428" y="311" width="3" height="20" fill="#fff"/>
<rect x="1437" y="307" width="1" height="20" fill="#000"/>
<rect x="1435" y="316" width="5" height="8" fill="#000"/>
<rect x="1445" y="316" width="1" height="8" fill="#000"/>
<rect x="1443" y="317" width="5" height="7" fill="#000"/>
<rect x="1444" y="318" width="3" height="5" fill="#fff"/>
<rect x="1453" y="315" width="1" height="4" fill="#000"/>
<rect x="1451" y="316" width="5" height="3" fill="#000"/>
<rect x="1452" y="317" width="3" height="1" fill="#fff"/>
</g>
<rect x="782.5" y="553.5" width="61" height="18" fill="#fff" stroke="#ff0000" stroke-width="1" shape-rendering="crispEdges"/>
<text x="784.5" y="569" font-size="17.1" fill="#ff0000" text-anchor="start" font-weight="normal" textLength="58.5" lengthAdjust="spacingAndGlyphs" >1.36017</text>
<rect x="844" y="562" width="9" height="1" fill="#ff0000" shape-rendering="crispEdges"/>
<rect x="998.5" y="449.5" width="61" height="18" fill="#fff" stroke="#ff0000" stroke-width="1" shape-rendering="crispEdges"/>
<text x="1000.5" y="465" font-size="17.1" fill="#ff0000" text-anchor="start" font-weight="normal" textLength="58.5" lengthAdjust="spacingAndGlyphs" >1.36796</text>
<rect x="1060" y="458" width="9" height="1" fill="#ff0000" shape-rendering="crispEdges"/>
<rect x="1270.5" y="164.5" width="61" height="18" fill="#fff" stroke="#ff0000" stroke-width="1" shape-rendering="crispEdges"/>
<text x="1272.5" y="180" font-size="17.1" fill="#ff0000" text-anchor="start" font-weight="normal" textLength="58.5" lengthAdjust="spacingAndGlyphs" >1.38918</text>
<rect x="1332" y="173" width="10" height="1" fill="#ff0000" shape-rendering="crispEdges"/>
<rect x="1312.5" y="292.5" width="73" height="24" fill="#fff" stroke="#ff0000" stroke-width="1" shape-rendering="crispEdges"/>
<text x="1314.2" y="313" font-size="22.3" fill="#ff0000" text-anchor="start" font-weight="normal" textLength="70.6" lengthAdjust="spacingAndGlyphs" stroke="#ff0000" stroke-width="0.5">1.37943</text>
<rect x="1302" y="304" width="7" height="1" fill="#ff0000" shape-rendering="crispEdges"/>
<rect x="1309.5" y="302.5" width="2" height="3" fill="#fff" stroke="#ff0000" stroke-width="1" shape-rendering="crispEdges"/>
<rect x="1502.5" y="314.5" width="110" height="24" fill="none" stroke="#404040" stroke-width="1" shape-rendering="crispEdges"/>
<text x="1502.3" y="333.8" font-size="20.6" fill="#00f800" text-anchor="start" font-weight="normal" textLength="108.4" lengthAdjust="spacing" style="font-family:'Liberation Sans','Noto Sans CJK SC',sans-serif">多空转折点</text>
<rect x="1555.5" y="312.5" width="2" height="2" fill="#fff" stroke="#00ee00" stroke-width="1" shape-rendering="crispEdges"/><rect x="1555" y="314" width="3" height="1" fill="#ff60ff" shape-rendering="crispEdges"/>
<g shape-rendering="crispEdges" fill="#000">
<rect x="0" y="24" width="1648" height="1"/>
<rect x="1647" y="24" width="1" height="902"/>
<rect x="0" y="577" width="1647" height="1"/>
<rect x="0" y="579" width="1647" height="1"/>
<rect x="0" y="749" width="1647" height="1"/>
<rect x="0" y="751" width="1647" height="1"/>
<rect x="0" y="925" width="1648" height="1"/>
</g>
<rect x="1648" y="46" width="2" height="1" fill="#000" shape-rendering="crispEdges"/>
<text x="1653.3" y="49.6" font-size="9.5" fill="#000" text-anchor="start" font-weight="normal" stroke="#000" stroke-width="0.12" textLength="32.6" lengthAdjust="spacingAndGlyphs" >1.39865</text>
<rect x="1648" y="79" width="2" height="1" fill="#000" shape-rendering="crispEdges"/>
<text x="1653.3" y="82.6" font-size="9.5" fill="#000" text-anchor="start" font-weight="normal" stroke="#000" stroke-width="0.12" textLength="32.6" lengthAdjust="spacingAndGlyphs" >1.39620</text>
<rect x="1648" y="112" width="2" height="1" fill="#000" shape-rendering="crispEdges"/>
<text x="1653.3" y="115.6" font-size="9.5" fill="#000" text-anchor="start" font-weight="normal" stroke="#000" stroke-width="0.12" textLength="32.6" lengthAdjust="spacingAndGlyphs" >1.39375</text>
<rect x="1648" y="145" width="2" height="1" fill="#000" shape-rendering="crispEdges"/>
<text x="1653.3" y="148.6" font-size="9.5" fill="#000" text-anchor="start" font-weight="normal" stroke="#000" stroke-width="0.12" textLength="32.6" lengthAdjust="spacingAndGlyphs" >1.39125</text>
<rect x="1648" y="178" width="2" height="1" fill="#000" shape-rendering="crispEdges"/>
<text x="1653.3" y="181.6" font-size="9.5" fill="#000" text-anchor="start" font-weight="normal" stroke="#000" stroke-width="0.12" textLength="32.6" lengthAdjust="spacingAndGlyphs" >1.38880</text>
<rect x="1648" y="211" width="2" height="1" fill="#000" shape-rendering="crispEdges"/>
<text x="1653.3" y="214.6" font-size="9.5" fill="#000" text-anchor="start" font-weight="normal" stroke="#000" stroke-width="0.12" textLength="32.6" lengthAdjust="spacingAndGlyphs" >1.38635</text>
<rect x="1648" y="244" width="2" height="1" fill="#000" shape-rendering="crispEdges"/>
<text x="1653.3" y="247.6" font-size="9.5" fill="#000" text-anchor="start" font-weight="normal" stroke="#000" stroke-width="0.12" textLength="32.6" lengthAdjust="spacingAndGlyphs" >1.38390</text>
<rect x="1648" y="277" width="2" height="1" fill="#000" shape-rendering="crispEdges"/>
<text x="1653.3" y="280.6" font-size="9.5" fill="#000" text-anchor="start" font-weight="normal" stroke="#000" stroke-width="0.12" textLength="32.6" lengthAdjust="spacingAndGlyphs" >1.38145</text>
<rect x="1648" y="310" width="2" height="1" fill="#000" shape-rendering="crispEdges"/>
<text x="1653.3" y="313.6" font-size="9.5" fill="#000" text-anchor="start" font-weight="normal" stroke="#000" stroke-width="0.12" textLength="32.6" lengthAdjust="spacingAndGlyphs" >1.37900</text>
<rect x="1648" y="343" width="2" height="1" fill="#000" shape-rendering="crispEdges"/>
<text x="1653.3" y="346.6" font-size="9.5" fill="#000" text-anchor="start" font-weight="normal" stroke="#000" stroke-width="0.12" textLength="32.6" lengthAdjust="spacingAndGlyphs" >1.37650</text>
<rect x="1648" y="376" width="2" height="1" fill="#000" shape-rendering="crispEdges"/>
<text x="1653.3" y="379.6" font-size="9.5" fill="#000" text-anchor="start" font-weight="normal" stroke="#000" stroke-width="0.12" textLength="32.6" lengthAdjust="spacingAndGlyphs" >1.37405</text>
<rect x="1648" y="409" width="2" height="1" fill="#000" shape-rendering="crispEdges"/>
<text x="1653.3" y="412.6" font-size="9.5" fill="#000" text-anchor="start" font-weight="normal" stroke="#000" stroke-width="0.12" textLength="32.6" lengthAdjust="spacingAndGlyphs" >1.37160</text>
<rect x="1648" y="442" width="2" height="1" fill="#000" shape-rendering="crispEdges"/>
<text x="1653.3" y="445.6" font-size="9.5" fill="#000" text-anchor="start" font-weight="normal" stroke="#000" stroke-width="0.12" textLength="32.6" lengthAdjust="spacingAndGlyphs" >1.36910</text>
<rect x="1648" y="475" width="2" height="1" fill="#000" shape-rendering="crispEdges"/>
<text x="1653.3" y="478.6" font-size="9.5" fill="#000" text-anchor="start" font-weight="normal" stroke="#000" stroke-width="0.12" textLength="32.6" lengthAdjust="spacingAndGlyphs" >1.36665</text>
<rect x="1648" y="508" width="2" height="1" fill="#000" shape-rendering="crispEdges"/>
<text x="1653.3" y="511.6" font-size="9.5" fill="#000" text-anchor="start" font-weight="normal" stroke="#000" stroke-width="0.12" textLength="32.6" lengthAdjust="spacingAndGlyphs" >1.36420</text>
<rect x="1648" y="541" width="2" height="1" fill="#000" shape-rendering="crispEdges"/>
<text x="1653.3" y="544.6" font-size="9.5" fill="#000" text-anchor="start" font-weight="normal" stroke="#000" stroke-width="0.12" textLength="32.6" lengthAdjust="spacingAndGlyphs" >1.36175</text>
<rect x="1648" y="574" width="2" height="1" fill="#000" shape-rendering="crispEdges"/>
<text x="1653.3" y="577.6" font-size="9.5" fill="#000" text-anchor="start" font-weight="normal" stroke="#000" stroke-width="0.12" textLength="32.6" lengthAdjust="spacingAndGlyphs" >1.35925</text>
<rect x="1649" y="256" width="41" height="11" fill="#ff4500" shape-rendering="crispEdges"/>
<text x="1653.3" y="265" font-size="9.5" fill="#fff" text-anchor="start" font-weight="normal" stroke="#fff" stroke-width="0.12" textLength="32.6" lengthAdjust="spacingAndGlyphs" >1.38255</text>
<rect x="1642.5" y="260.5" width="4" height="4" fill="#fff" stroke="#ff4500" stroke-width="1" shape-rendering="crispEdges"/>
<rect x="1649" y="276" width="41" height="11" fill="#ff0000" shape-rendering="crispEdges"/>
<text x="1653.3" y="285" font-size="9.5" fill="#fff" text-anchor="start" font-weight="normal" stroke="#fff" stroke-width="0.12" textLength="32.6" lengthAdjust="spacingAndGlyphs" >1.38106</text>
<rect x="1642.5" y="280.5" width="4" height="4" fill="#fff" stroke="#ff0000" stroke-width="1" shape-rendering="crispEdges"/>
<rect x="1649" y="298" width="41" height="11" fill="#32cd32" shape-rendering="crispEdges"/>
<text x="1653.3" y="307" font-size="9.5" fill="#fff" text-anchor="start" font-weight="normal" stroke="#fff" stroke-width="0.12" textLength="32.6" lengthAdjust="spacingAndGlyphs" >1.37943</text>
<rect x="1642.5" y="302.5" width="4" height="4" fill="#fff" stroke="#32cd32" stroke-width="1" shape-rendering="crispEdges"/>
<rect x="1649" y="311" width="41" height="11" fill="#000000" shape-rendering="crispEdges"/>
<text x="1653.3" y="320" font-size="9.5" fill="#fff" text-anchor="start" font-weight="normal" stroke="#fff" stroke-width="0.12" textLength="32.6" lengthAdjust="spacingAndGlyphs" >1.37852</text>
<rect x="1649" y="335" width="41" height="11" fill="#0000ff" shape-rendering="crispEdges"/>
<text x="1653.3" y="344" font-size="9.5" fill="#fff" text-anchor="start" font-weight="normal" stroke="#fff" stroke-width="0.12" textLength="32.6" lengthAdjust="spacingAndGlyphs" >1.37667</text>
<rect x="1642.5" y="339.5" width="4" height="4" fill="#fff" stroke="#0000ff" stroke-width="1" shape-rendering="crispEdges"/>
<rect x="1649" y="360" width="41" height="11" fill="#0000ff" shape-rendering="crispEdges"/>
<text x="1653.3" y="369" font-size="9.5" fill="#fff" text-anchor="start" font-weight="normal" stroke="#fff" stroke-width="0.12" textLength="32.6" lengthAdjust="spacingAndGlyphs" >1.37481</text>
<rect x="1642.5" y="364.5" width="4" height="4" fill="#fff" stroke="#0000ff" stroke-width="1" shape-rendering="crispEdges"/>
<g shape-rendering="crispEdges">
<rect x="5" y="609" width="1" height="54" fill="#c0c0c0"/>
<rect x="13" y="608" width="1" height="55" fill="#c0c0c0"/>
<rect x="21" y="608" width="1" height="55" fill="#c0c0c0"/>
<rect x="29" y="607" width="1" height="56" fill="#c0c0c0"/>
<rect x="37" y="607" width="1" height="56" fill="#c0c0c0"/>
<rect x="45" y="604" width="1" height="59" fill="#c0c0c0"/>
<rect x="53" y="603" width="1" height="60" fill="#c0c0c0"/>
<rect x="61" y="600" width="1" height="63" fill="#c0c0c0"/>
<rect x="69" y="598" width="1" height="65" fill="#c0c0c0"/>
<rect x="77" y="594" width="1" height="69" fill="#c0c0c0"/>
<rect x="85" y="592" width="1" height="71" fill="#c0c0c0"/>
<rect x="93" y="592" width="1" height="71" fill="#c0c0c0"/>
<rect x="101" y="592" width="1" height="71" fill="#c0c0c0"/>
<rect x="109" y="593" width="1" height="70" fill="#c0c0c0"/>
<rect x="117" y="594" width="1" height="69" fill="#c0c0c0"/>
<rect x="125" y="596" width="1" height="67" fill="#c0c0c0"/>
<rect x="133" y="603" width="1" height="60" fill="#c0c0c0"/>
<rect x="141" y="613" width="1" height="50" fill="#c0c0c0"/>
<rect x="149" y="620" width="1" height="43" fill="#c0c0c0"/>
<rect x="157" y="626" width="1" height="37" fill="#c0c0c0"/>
<rect x="165" y="629" width="1" height="34" fill="#c0c0c0"/>
<rect x="173" y="634" width="1" height="29" fill="#c0c0c0"/>
<rect x="181" y="640" width="1" height="23" fill="#c0c0c0"/>
<rect x="189" y="644" width="1" height="19" fill="#c0c0c0"/>
<rect x="197" y="647" width="1" height="16" fill="#c0c0c0"/>
<rect x="205" y="650" width="1" height="13" fill="#c0c0c0"/>
<rect x="213" y="650" width="1" height="13" fill="#c0c0c0"/>
<rect x="221" y="647" width="1" height="16" fill="#c0c0c0"/>
<rect x="229" y="649" width="1" height="14" fill="#c0c0c0"/>
<rect x="237" y="649" width="1" height="14" fill="#c0c0c0"/>
<rect x="245" y="649" width="1" height="14" fill="#c0c0c0"/>
<rect x="253" y="647" width="1" height="16" fill="#c0c0c0"/>
<rect x="261" y="646" width="1" height="17" fill="#c0c0c0"/>
<rect x="269" y="646" width="1" height="17" fill="#c0c0c0"/>
<rect x="277" y="646" width="1" height="17" fill="#c0c0c0"/>
<rect x="285" y="653" width="1" height="10" fill="#c0c0c0"/>
<rect x="293" y="657" width="1" height="6" fill="#c0c0c0"/>
<rect x="301" y="659" width="1" height="4" fill="#c0c0c0"/>
<rect x="309" y="658" width="1" height="5" fill="#c0c0c0"/>
<rect x="317" y="656" width="1" height="7" fill="#c0c0c0"/>
<rect x="325" y="655" width="1" height="8" fill="#c0c0c0"/>
<rect x="333" y="653" width="1" height="10" fill="#c0c0c0"/>
<rect x="341" y="653" width="1" height="10" fill="#c0c0c0"/>
<rect x="349" y="654" width="1" height="9" fill="#c0c0c0"/>
<rect x="357" y="654" width="1" height="9" fill="#c0c0c0"/>
<rect x="365" y="655" width="1" height="8" fill="#c0c0c0"/>
<rect x="373" y="661" width="1" height="2" fill="#c0c0c0"/>
<rect x="381" y="662" width="1" height="3" fill="#c0c0c0"/>
<rect x="389" y="662" width="1" height="8" fill="#c0c0c0"/>
<rect x="397" y="662" width="1" height="11" fill="#c0c0c0"/>
<rect x="405" y="662" width="1" height="14" fill="#c0c0c0"/>
<rect x="413" y="662" width="1" height="15" fill="#c0c0c0"/>
<rect x="421" y="662" width="1" height="19" fill="#c0c0c0"/>
<rect x="429" y="662" width="1" height="22" fill="#c0c0c0"/>
<rect x="437" y="662" width="1" height="24" fill="#c0c0c0"/>
<rect x="445" y="662" width="1" height="25" fill="#c0c0c0"/>
<rect x="453" y="662" width="1" height="25" fill="#c0c0c0"/>
<rect x="461" y="662" width="1" height="24" fill="#c0c0c0"/>
<rect x="469" y="662" width="1" height="25" fill="#c0c0c0"/>
<rect x="477" y="662" width="1" height="27" fill="#c0c0c0"/>
<rect x="485" y="662" width="1" height="28" fill="#c0c0c0"/>
<rect x="493" y="662" width="1" height="29" fill="#c0c0c0"/>
<rect x="501" y="662" width="1" height="31" fill="#c0c0c0"/>
<rect x="509" y="662" width="1" height="30" fill="#c0c0c0"/>
<rect x="517" y="662" width="1" height="25" fill="#c0c0c0"/>
<rect x="525" y="662" width="1" height="20" fill="#c0c0c0"/>
<rect x="533" y="662" width="1" height="17" fill="#c0c0c0"/>
<rect x="541" y="662" width="1" height="13" fill="#c0c0c0"/>
<rect x="549" y="662" width="1" height="10" fill="#c0c0c0"/>
<rect x="557" y="662" width="1" height="11" fill="#c0c0c0"/>
<rect x="565" y="662" width="1" height="12" fill="#c0c0c0"/>
<rect x="573" y="662" width="1" height="17" fill="#c0c0c0"/>
<rect x="581" y="662" width="1" height="20" fill="#c0c0c0"/>
<rect x="589" y="662" width="1" height="23" fill="#c0c0c0"/>
<rect x="597" y="662" width="1" height="25" fill="#c0c0c0"/>
<rect x="605" y="662" width="1" height="24" fill="#c0c0c0"/>
<rect x="613" y="662" width="1" height="18" fill="#c0c0c0"/>
<rect x="621" y="662" width="1" height="13" fill="#c0c0c0"/>
<rect x="629" y="662" width="1" height="10" fill="#c0c0c0"/>
<rect x="637" y="662" width="1" height="8" fill="#c0c0c0"/>
<rect x="645" y="662" width="1" height="7" fill="#c0c0c0"/>
<rect x="653" y="662" width="1" height="4" fill="#c0c0c0"/>
<rect x="661" y="662" width="1" height="4" fill="#c0c0c0"/>
<rect x="669" y="662" width="1" height="5" fill="#c0c0c0"/>
<rect x="677" y="662" width="1" height="5" fill="#c0c0c0"/>
<rect x="685" y="662" width="1" height="7" fill="#c0c0c0"/>
<rect x="693" y="662" width="1" height="13" fill="#c0c0c0"/>
<rect x="701" y="662" width="1" height="18" fill="#c0c0c0"/>
<rect x="709" y="662" width="1" height="28" fill="#c0c0c0"/>
<rect x="717" y="662" width="1" height="35" fill="#c0c0c0"/>
<rect x="725" y="662" width="1" height="40" fill="#c0c0c0"/>
<rect x="733" y="662" width="1" height="42" fill="#c0c0c0"/>
<rect x="741" y="662" width="1" height="44" fill="#c0c0c0"/>
<rect x="749" y="662" width="1" height="42" fill="#c0c0c0"/>
<rect x="757" y="662" width="1" height="42" fill="#c0c0c0"/>
<rect x="765" y="662" width="1" height="42" fill="#c0c0c0"/>
<rect x="773" y="662" width="1" height="43" fill="#c0c0c0"/>
<rect x="781" y="662" width="1" height="45" fill="#c0c0c0"/>
<rect x="789" y="662" width="1" height="49" fill="#c0c0c0"/>
<rect x="797" y="662" width="1" height="54" fill="#c0c0c0"/>
<rect x="805" y="662" width="1" height="58" fill="#c0c0c0"/>
<rect x="813" y="662" width="1" height="65" fill="#c0c0c0"/>
<rect x="821" y="662" width="1" height="70" fill="#c0c0c0"/>
<rect x="829" y="662" width="1" height="74" fill="#c0c0c0"/>
<rect x="837" y="662" width="1" height="77" fill="#c0c0c0"/>
<rect x="845" y="662" width="1" height="80" fill="#c0c0c0"/>
<rect x="853" y="662" width="1" height="79" fill="#c0c0c0"/>
<rect x="861" y="662" width="1" height="77" fill="#c0c0c0"/>
<rect x="869" y="662" width="1" height="75" fill="#c0c0c0"/>
<rect x="877" y="662" width="1" height="71" fill="#c0c0c0"/>
<rect x="885" y="662" width="1" height="66" fill="#c0c0c0"/>
<rect x="893" y="662" width="1" height="58" fill="#c0c0c0"/>
<rect x="901" y="662" width="1" height="45" fill="#c0c0c0"/>
<rect x="909" y="662" width="1" height="35" fill="#c0c0c0"/>
<rect x="917" y="662" width="1" height="27" fill="#c0c0c0"/>
<rect x="925" y="662" width="1" height="20" fill="#c0c0c0"/>
<rect x="933" y="662" width="1" height="15" fill="#c0c0c0"/>
<rect x="941" y="662" width="1" height="10" fill="#c0c0c0"/>
<rect x="949" y="662" width="1" height="8" fill="#c0c0c0"/>
<rect x="957" y="662" width="1" height="4" fill="#c0c0c0"/>
<rect x="973" y="661" width="1" height="2" fill="#c0c0c0"/>
<rect x="981" y="661" width="1" height="2" fill="#c0c0c0"/>
<rect x="989" y="660" width="1" height="3" fill="#c0c0c0"/>
<rect x="997" y="659" width="1" height="4" fill="#c0c0c0"/>
<rect x="1005" y="654" width="1" height="9" fill="#c0c0c0"/>
<rect x="1013" y="649" width="1" height="14" fill="#c0c0c0"/>
<rect x="1021" y="648" width="1" height="15" fill="#c0c0c0"/>
<rect x="1029" y="647" width="1" height="16" fill="#c0c0c0"/>
<rect x="1037" y="648" width="1" height="15" fill="#c0c0c0"/>
<rect x="1045" y="653" width="1" height="10" fill="#c0c0c0"/>
<rect x="1053" y="656" width="1" height="7" fill="#c0c0c0"/>
<rect x="1061" y="660" width="1" height="3" fill="#c0c0c0"/>
<rect x="1093" y="657" width="1" height="6" fill="#c0c0c0"/>
<rect x="1101" y="652" width="1" height="11" fill="#c0c0c0"/>
<rect x="1109" y="650" width="1" height="13" fill="#c0c0c0"/>
<rect x="1117" y="647" width="1" height="16" fill="#c0c0c0"/>
<rect x="1125" y="645" width="1" height="18" fill="#c0c0c0"/>
<rect x="1133" y="644" width="1" height="19" fill="#c0c0c0"/>
<rect x="1141" y="645" width="1" height="18" fill="#c0c0c0"/>
<rect x="1149" y="645" width="1" height="18" fill="#c0c0c0"/>
<rect x="1157" y="646" width="1" height="17" fill="#c0c0c0"/>
<rect x="1165" y="645" width="1" height="18" fill="#c0c0c0"/>
<rect x="1173" y="643" width="1" height="20" fill="#c0c0c0"/>
<rect x="1181" y="640" width="1" height="23" fill="#c0c0c0"/>
<rect x="1189" y="644" width="1" height="19" fill="#c0c0c0"/>
<rect x="1197" y="647" width="1" height="16" fill="#c0c0c0"/>
<rect x="1205" y="649" width="1" height="14" fill="#c0c0c0"/>
<rect x="1213" y="654" width="1" height="9" fill="#c0c0c0"/>
<rect x="1221" y="655" width="1" height="8" fill="#c0c0c0"/>
<rect x="1229" y="655" width="1" height="8" fill="#c0c0c0"/>
<rect x="1237" y="652" width="1" height="11" fill="#c0c0c0"/>
<rect x="1245" y="650" width="1" height="13" fill="#c0c0c0"/>
<rect x="1253" y="649" width="1" height="14" fill="#c0c0c0"/>
<rect x="1261" y="650" width="1" height="13" fill="#c0c0c0"/>
<rect x="1269" y="649" width="1" height="14" fill="#c0c0c0"/>
<rect x="1277" y="647" width="1" height="16" fill="#c0c0c0"/>
<rect x="1285" y="642" width="1" height="21" fill="#c0c0c0"/>
<rect x="1293" y="637" width="1" height="26" fill="#c0c0c0"/>
<rect x="1301" y="633" width="1" height="30" fill="#c0c0c0"/>
<rect x="1309" y="631" width="1" height="32" fill="#c0c0c0"/>
<rect x="1317" y="630" width="1" height="33" fill="#c0c0c0"/>
<rect x="1325" y="629" width="1" height="34" fill="#c0c0c0"/>
<rect x="1333" y="626" width="1" height="37" fill="#c0c0c0"/>
<rect x="1341" y="621" width="1" height="42" fill="#c0c0c0"/>
<rect x="1349" y="621" width="1" height="42" fill="#c0c0c0"/>
<rect x="1357" y="621" width="1" height="42" fill="#c0c0c0"/>
<rect x="1365" y="625" width="1" height="38" fill="#c0c0c0"/>
<rect x="1373" y="626" width="1" height="37" fill="#c0c0c0"/>
<rect x="1381" y="630" width="1" height="33" fill="#c0c0c0"/>
<rect x="1389" y="632" width="1" height="31" fill="#c0c0c0"/>
<rect x="1397" y="634" width="1" height="29" fill="#c0c0c0"/>
<rect x="1405" y="635" width="1" height="28" fill="#c0c0c0"/>
<rect x="1413" y="639" width="1" height="24" fill="#c0c0c0"/>
<rect x="1421" y="647" width="1" height="16" fill="#c0c0c0"/>
<rect x="1429" y="653" width="1" height="10" fill="#c0c0c0"/>
<rect x="1437" y="658" width="1" height="5" fill="#c0c0c0"/>
<rect x="1445" y="662" width="1" height="1" fill="#c0c0c0"/>
<rect x="1453" y="662" width="1" height="1" fill="#c0c0c0"/>
<polyline fill="none" stroke="#ff0000" stroke-width="1" points="0.0,625.0 12.5,620.0 37.5,613.8 62.5,605.0 87.5,599.3 112.5,593.8 140.0,593.8 155.0,600.0 175.0,612.0 200.0,629.3 220.0,640.0 240.0,645.0 260.0,647.0 285.0,647.5 310.0,651.3 335.0,653.8 375.0,654.5 390.0,657.0 404.0,660.6 421.0,666.4 437.5,674.6 452.5,679.4 470.0,683.4 487.5,686.4 500.0,688.1 517.5,688.1 536.0,686.9 555.0,682.6 572.5,679.4 590.0,677.6 605.0,679.4 630.0,680.1 650.0,677.6 675.0,670.9 692.5,668.4 710.0,671.4 732.5,682.6 762.5,698.1 780.0,703.4 795.0,705.6 812.5,710.2 830.0,715.7 845.0,725.7 862.5,732.7 877.5,736.0 887.5,735.7 907.5,727.7 925.0,713.9 940.0,701.4 955.0,687.6 972.5,674.6 990.0,668.1 1007.5,661.9 1025.0,655.9 1042.5,652.1 1062.5,651.4 1080.0,653.4 1095.0,655.9 1117.5,656.4 1140.0,651.9 1157.5,646.3 1180.0,643.3 1205.0,643.3 1229.0,646.4 1258.0,650.2 1278.7,649.3 1299.0,645.0 1322.5,638.5 1343.0,631.2 1357.0,627.4 1366.0,625.2 1376.0,624.4 1390.0,625.2 1400.0,625.6 1407.0,626.4 1413.0,628.1 1418.6,630.1 1424.3,632.8 1430.4,635.5 1436.5,638.2 1442.6,640.6 1449.0,644.0" stroke-dasharray="3,3"/>
</g>
<text x="-6" y="592" font-size="9.4" fill="#000" text-anchor="start" font-weight="normal" stroke="#000" stroke-width="0.12" textLength="149.8" lengthAdjust="spacingAndGlyphs" >MACD(12,26,9) -0.000136 0.001066</text>
<text x="1651.3" y="589.6" font-size="9.5" fill="#000" text-anchor="start" font-weight="normal" stroke="#000" stroke-width="0.12" textLength="37.9" lengthAdjust="spacingAndGlyphs" >0.005444</text>
<text x="1651.3" y="666" font-size="9.5" fill="#000" text-anchor="start" font-weight="normal" stroke="#000" stroke-width="0.12" textLength="18.3" lengthAdjust="spacingAndGlyphs" >0.00</text>
<text x="1651" y="746" font-size="9.5" fill="#000" text-anchor="start" font-weight="normal" stroke="#000" stroke-width="0.12" textLength="40.4" lengthAdjust="spacingAndGlyphs" >-0.005721</text>
<rect x="1648" y="662" width="2" height="1" fill="#000" shape-rendering="crispEdges"/>
<g shape-rendering="crispEdges">
<line x1="0" y1="787.5" x2="1647" y2="787.5" stroke="#c0c0c0" stroke-width="1" stroke-dasharray="3,3"/>
<line x1="0" y1="838.5" x2="1647" y2="838.5" stroke="#c0c0c0" stroke-width="1" stroke-dasharray="3,3"/>
<line x1="0" y1="899.5" x2="1647" y2="899.5" stroke="#c0c0c0" stroke-width="1" stroke-dasharray="3,3"/>
<path d="M6 804h1v1h-1zM7 805h2v1h-2zM9 806h2v1h-2zM11 807h2v1h-2zM13 808h7v1h-7zM20 809h3v1h-3zM23 808h4v1h-4zM27 807h5v1h-5zM32 806h5v1h-5zM37 805h2v1h-2zM39 804h1v1h-1zM40 803h2v1h-2zM42 802h1v1h-1zM43 801h2v1h-2zM45 800h4v1h-4zM49 801h5v1h-5zM54 800h2v1h-2zM56 799h2v1h-2zM58 798h1v1h-1zM59 797h2v1h-2zM61 796h3v1h-3zM64 795h3v1h-3zM67 794h3v1h-3zM70 793h2v1h-2zM72 792h1v1h-1zM73 791h2v1h-2zM75 790h2v1h-2zM77 789h13v1h-13zM90 790h12v1h-12zM102 791h1v2h-1zM103 793h1v2h-1zM104 795h1v2h-1zM105 797h1v2h-1zM106 799h1v2h-1zM107 801h1v2h-1zM108 803h1v2h-1zM109 805h1v2h-1zM110 805h1v1h-1zM111 804h1v1h-1zM112 803h1v1h-1zM113 802h1v1h-1zM114 801h2v1h-2zM116 800h1v1h-1zM117 799h1v1h-1zM118 800h1v1h-1zM119 801h2v1h-2zM121 802h1v1h-1zM122 803h1v1h-1zM123 804h1v1h-1zM124 805h1v1h-1zM125 806h1v1h-1zM126 807h1v3h-1zM127 810h1v2h-1zM128 812h1v3h-1zM129 815h1v3h-1zM130 818h1v3h-1zM131 821h1v3h-1zM132 824h1v2h-1zM133 826h1v3h-1zM134 829h1v1h-1zM135 830h1v2h-1zM136 832h1v1h-1zM137 833h1v1h-1zM138 834h1v1h-1zM139 835h1v1h-1zM140 836h1v1h-1zM141 837h1v2h-1zM142 837h4v1h-4zM146 836h5v1h-5zM151 835h7v1h-7zM158 834h1v1h-1zM159 833h1v1h-1zM160 832h1v1h-1zM161 831h1v1h-1zM162 830h1v1h-1zM163 829h1v1h-1zM164 828h1v1h-1zM165 827h1v1h-1zM166 828h1v1h-1zM167 829h1v1h-1zM168 830h1v1h-1zM169 831h1v1h-1zM170 832h1v1h-1zM171 833h1v1h-1zM172 834h1v2h-1zM173 836h1v1h-1zM174 837h2v1h-2zM176 838h1v1h-1zM177 839h1v1h-1zM178 840h2v1h-2zM180 841h1v1h-1zM181 842h2v1h-2zM183 841h2v1h-2zM185 840h3v1h-3zM188 839h12v1h-12zM200 838h6v1h-6zM206 836h1v2h-1zM207 835h1v1h-1zM208 834h1v1h-1zM209 833h1v1h-1zM210 832h1v1h-1zM211 831h1v1h-1zM212 830h1v1h-1zM213 829h1v1h-1zM214 828h1v1h-1zM215 827h1v1h-1zM216 826h1v1h-1zM217 825h1v1h-1zM218 824h1v1h-1zM219 823h1v1h-1zM220 822h1v1h-1zM221 821h1v1h-1zM222 822h1v2h-1zM223 824h1v1h-1zM224 825h1v2h-1zM225 827h1v2h-1zM226 829h1v1h-1zM227 830h1v2h-1zM228 832h1v2h-1zM229 834h1v2h-1zM230 834h1v1h-1zM231 833h1v1h-1zM232 832h2v1h-2zM234 831h1v1h-1zM235 830h2v1h-2zM237 829h3v1h-3zM240 830h4v1h-4zM244 831h2v1h-2zM246 830h2v1h-2zM248 829h2v1h-2zM250 828h2v1h-2zM252 827h2v1h-2zM254 826h1v1h-1zM255 825h1v1h-1zM256 824h1v1h-1zM257 823h1v1h-1zM258 822h1v1h-1zM259 821h1v1h-1zM260 820h2v1h-2zM262 821h1v1h-1zM263 822h1v1h-1zM264 823h1v1h-1zM265 824h1v1h-1zM266 825h1v1h-1zM267 826h1v1h-1zM268 827h1v1h-1zM269 828h1v1h-1zM270 829h1v1h-1zM271 830h1v1h-1zM272 831h1v1h-1zM273 832h1v1h-1zM274 833h1v1h-1zM275 834h1v1h-1zM276 835h1v1h-1zM277 836h1v1h-1zM278 837h1v2h-1zM279 839h1v1h-1zM280 840h1v1h-1zM281 841h1v2h-1zM282 843h1v1h-1zM283 844h1v1h-1zM284 845h1v2h-1zM285 847h5v1h-5zM290 846h6v1h-6zM296 845h6v1h-6zM302 843h1v2h-1zM303 841h1v2h-1zM304 839h1v2h-1zM305 837h1v2h-1zM306 835h1v2h-1zM307 833h1v2h-1zM308 831h1v2h-1zM309 829h1v2h-1zM310 829h10v1h-10zM320 828h6v1h-6zM326 827h4v1h-4zM330 826h6v1h-6zM336 827h2v1h-2zM338 828h2v1h-2zM340 829h3v1h-3zM343 830h2v1h-2zM345 831h3v1h-3zM348 832h6v1h-6zM354 833h7v1h-7zM361 834h4v1h-4zM365 835h1v1h-1zM366 836h1v3h-1zM367 839h1v3h-1zM368 842h1v3h-1zM369 845h1v3h-1zM370 848h1v3h-1zM371 851h1v3h-1zM372 854h1v3h-1zM373 857h1v3h-1zM374 859h1v1h-1zM375 858h4v1h-4zM379 857h4v1h-4zM383 858h2v1h-2zM385 859h3v1h-3zM388 860h5v1h-5zM393 859h9v1h-9zM402 860h4v1h-4zM406 859h1v1h-1zM407 858h1v1h-1zM408 857h1v1h-1zM409 856h2v1h-2zM411 855h1v1h-1zM412 854h1v1h-1zM413 853h1v1h-1zM414 854h1v1h-1zM415 855h1v2h-1zM416 857h1v1h-1zM417 858h1v1h-1zM418 859h1v2h-1zM419 861h1v1h-1zM420 862h1v1h-1zM421 863h1v2h-1zM422 864h2v1h-2zM424 865h4v1h-4zM428 866h11v1h-11zM439 865h7v1h-7zM446 864h2v1h-2zM448 863h2v1h-2zM450 862h2v1h-2zM452 861h2v1h-2zM454 860h1v1h-1zM455 859h1v1h-1zM456 858h1v1h-1zM457 857h1v1h-1zM458 856h1v1h-1zM459 855h1v1h-1zM460 854h1v1h-1zM461 853h1v1h-1zM462 854h1v1h-1zM463 855h1v2h-1zM464 857h1v1h-1zM465 858h1v2h-1zM466 860h1v1h-1zM467 861h1v2h-1zM468 863h1v1h-1zM469 864h1v2h-1zM470 865h6v1h-6zM476 866h11v1h-11zM487 867h3v1h-3zM490 868h3v1h-3zM493 869h2v1h-2zM495 870h1v1h-1zM496 871h2v1h-2zM498 872h1v1h-1zM499 873h2v1h-2zM501 874h1v1h-1zM502 872h1v2h-1zM503 871h1v1h-1zM504 869h1v2h-1zM505 867h1v2h-1zM506 866h1v1h-1zM507 864h1v2h-1zM508 862h1v2h-1zM509 861h1v1h-1zM510 858h1v3h-1zM511 855h1v3h-1zM512 852h1v3h-1zM513 849h1v3h-1zM514 846h1v3h-1zM515 843h1v3h-1zM516 840h1v3h-1zM517 837h1v3h-1zM518 837h1v1h-1zM519 836h2v1h-2zM521 835h2v1h-2zM523 834h5v1h-5zM528 835h2v1h-2zM530 836h2v1h-2zM532 837h2v1h-2zM534 836h2v1h-2zM536 835h2v1h-2zM538 834h1v1h-1zM539 833h2v1h-2zM541 832h3v1h-3zM544 831h4v1h-4zM548 830h2v1h-2zM550 831h1v2h-1zM551 833h1v2h-1zM552 835h1v3h-1zM553 838h1v2h-1zM554 840h1v2h-1zM555 842h1v2h-1zM556 844h1v2h-1zM557 846h1v3h-1zM558 849h1v1h-1zM559 850h1v1h-1zM560 851h1v1h-1zM561 852h1v1h-1zM562 853h1v1h-1zM563 854h1v1h-1zM564 855h1v1h-1zM565 856h1v1h-1zM566 857h1v1h-1zM567 858h1v1h-1zM568 859h1v2h-1zM569 861h1v1h-1zM570 862h1v1h-1zM571 863h1v1h-1zM572 864h1v2h-1zM573 866h1v1h-1zM574 865h3v1h-3zM577 864h2v1h-2zM579 863h3v1h-3zM582 862h4v1h-4zM586 861h6v1h-6zM592 862h4v1h-4zM596 863h2v1h-2zM598 862h1v1h-1zM599 861h1v1h-1zM600 860h1v1h-1zM601 859h1v1h-1zM602 858h2v1h-2zM604 857h1v1h-1zM605 856h1v1h-1zM606 853h1v3h-1zM607 850h1v3h-1zM608 847h1v3h-1zM609 845h1v2h-1zM610 842h1v3h-1zM611 839h1v3h-1zM612 836h1v3h-1zM613 833h1v3h-1zM614 833h1v1h-1zM615 832h1v1h-1zM616 831h1v1h-1zM617 830h2v1h-2zM619 829h1v1h-1zM620 828h4v1h-4zM624 829h2v1h-2zM626 830h3v1h-3zM629 831h1v1h-1zM630 832h2v1h-2zM632 833h1v1h-1zM633 834h1v1h-1zM634 835h2v1h-2zM636 836h1v1h-1zM637 837h4v1h-4zM641 836h5v1h-5zM646 835h1v1h-1zM647 834h2v1h-2zM649 833h1v1h-1zM650 832h1v1h-1zM651 831h2v1h-2zM653 830h1v1h-1zM654 831h1v1h-1zM655 832h1v2h-1zM656 834h1v1h-1zM657 835h1v1h-1zM658 836h1v1h-1zM659 837h1v2h-1zM660 839h1v1h-1zM661 840h1v1h-1zM662 841h2v1h-2zM664 842h2v1h-2zM666 843h2v1h-2zM668 844h1v1h-1zM669 845h1v1h-1zM670 844h8v1h-8zM678 845h1v1h-1zM679 846h1v2h-1zM680 848h1v1h-1zM681 849h1v2h-1zM682 851h1v1h-1zM683 852h1v2h-1zM684 854h1v1h-1zM685 855h1v2h-1zM686 857h1v1h-1zM687 858h2v1h-2zM689 859h1v1h-1zM690 860h1v1h-1zM691 861h1v1h-1zM692 862h1v1h-1zM693 863h2v1h-2zM695 864h2v1h-2zM697 865h3v1h-3zM700 866h2v1h-2zM702 867h1v2h-1zM703 869h1v2h-1zM704 871h1v2h-1zM705 873h1v2h-1zM706 875h1v1h-1zM707 876h1v2h-1zM708 878h1v2h-1zM709 880h1v2h-1zM710 881h1v1h-1zM711 880h7v1h-7zM718 879h6v1h-6zM724 878h2v1h-2zM726 877h1v1h-1zM727 876h1v1h-1zM728 875h1v1h-1zM729 874h1v1h-1zM730 873h1v1h-1zM731 872h1v1h-1zM732 871h1v1h-1zM733 870h3v1h-3zM736 871h2v1h-2zM738 872h2v1h-2zM740 873h2v1h-2zM742 871h1v2h-1zM743 869h1v2h-1zM744 867h1v2h-1zM745 865h1v2h-1zM746 862h1v3h-1zM747 860h1v2h-1zM748 858h1v2h-1zM749 856h1v2h-1zM750 857h1v1h-1zM751 858h1v1h-1zM752 859h1v1h-1zM753 860h2v1h-2zM755 861h1v1h-1zM756 862h1v1h-1zM757 863h2v1h-2zM759 862h1v1h-1zM760 861h2v1h-2zM762 860h1v1h-1zM763 859h1v1h-1zM764 858h3v1h-3zM767 859h2v1h-2zM769 860h2v1h-2zM771 861h2v1h-2zM773 862h1v1h-1zM774 863h1v1h-1zM775 864h1v1h-1zM776 865h1v1h-1zM777 866h1v1h-1zM778 867h1v1h-1zM779 868h1v1h-1zM780 869h1v1h-1zM781 870h2v1h-2zM783 871h1v1h-1zM784 872h1v1h-1zM785 873h2v1h-2zM787 874h1v1h-1zM788 875h1v1h-1zM789 876h2v1h-2zM791 877h3v1h-3zM794 878h3v1h-3zM797 879h4v1h-4zM801 880h5v1h-5zM806 881h1v1h-1zM807 882h1v1h-1zM808 883h1v1h-1zM809 884h1v1h-1zM810 885h1v1h-1zM811 886h1v1h-1zM812 887h1v1h-1zM813 888h7v1h-7zM820 889h12v1h-12zM832 890h4v1h-4zM836 891h6v1h-6zM842 892h4v1h-4zM846 891h1v1h-1zM847 889h1v2h-1zM848 888h1v1h-1zM849 887h1v1h-1zM850 885h1v2h-1zM851 884h1v1h-1zM852 883h1v1h-1zM853 882h7v1h-7zM860 883h3v1h-3zM863 882h4v1h-4zM867 881h3v1h-3zM870 879h1v2h-1zM871 877h1v2h-1zM872 874h1v3h-1zM873 872h1v2h-1zM874 870h1v2h-1zM875 868h1v2h-1zM876 866h1v2h-1zM877 864h1v2h-1zM878 864h8v1h-8zM886 862h1v2h-1zM887 859h1v3h-1zM888 857h1v2h-1zM889 855h1v2h-1zM890 853h1v2h-1zM891 850h1v3h-1zM892 848h1v2h-1zM893 846h1v2h-1zM894 844h1v2h-1zM895 842h1v2h-1zM896 840h1v2h-1zM897 838h1v2h-1zM898 836h1v2h-1zM899 834h1v2h-1zM900 832h1v2h-1zM901 830h1v2h-1zM902 829h2v1h-2zM904 828h2v1h-2zM906 827h2v1h-2zM908 826h4v1h-4zM912 827h4v1h-4zM916 828h3v1h-3zM919 829h3v1h-3zM922 830h3v1h-3zM925 831h10v1h-10zM935 830h4v1h-4zM939 829h4v1h-4zM943 830h2v1h-2zM945 831h2v1h-2zM947 832h2v1h-2zM949 833h1v1h-1zM950 832h1v1h-1zM951 831h1v1h-1zM952 830h1v1h-1zM953 829h1v1h-1zM954 828h1v1h-1zM955 827h1v1h-1zM956 826h1v1h-1zM957 825h2v1h-2zM959 826h2v1h-2zM961 827h2v1h-2zM963 828h2v1h-2zM965 829h2v1h-2zM967 830h2v1h-2zM969 831h2v1h-2zM971 832h2v1h-2zM973 833h12v1h-12zM985 834h4v1h-4zM989 835h1v1h-1zM990 834h2v1h-2zM992 833h2v1h-2zM994 832h2v1h-2zM996 831h2v1h-2zM998 829h1v2h-1zM999 826h1v3h-1zM1000 824h1v2h-1zM1001 822h1v2h-1zM1002 819h1v3h-1zM1003 817h1v2h-1zM1004 815h1v2h-1zM1005 813h1v2h-1zM1006 812h4v1h-4zM1010 811h4v1h-4zM1014 812h1v1h-1zM1015 813h1v1h-1zM1016 814h1v1h-1zM1017 815h1v1h-1zM1018 816h1v1h-1zM1019 817h1v1h-1zM1020 818h1v1h-1zM1021 819h1v2h-1zM1022 820h2v1h-2zM1024 821h2v1h-2zM1026 822h2v1h-2zM1028 823h2v1h-2zM1030 824h1v1h-1zM1031 825h1v1h-1zM1032 826h1v2h-1zM1033 828h1v1h-1zM1034 829h1v1h-1zM1035 830h1v1h-1zM1036 831h1v1h-1zM1037 832h1v1h-1zM1038 833h1v2h-1zM1039 835h1v1h-1zM1040 836h1v2h-1zM1041 838h1v1h-1zM1042 839h1v2h-1zM1043 841h1v1h-1zM1044 842h1v2h-1zM1045 844h1v1h-1zM1046 845h2v1h-2zM1048 846h1v1h-1zM1049 847h2v1h-2zM1051 848h1v1h-1zM1052 849h1v1h-1zM1053 850h15v1h-15zM1068 851h2v1h-2zM1070 849h1v2h-1zM1071 848h1v1h-1zM1072 846h1v2h-1zM1073 845h1v1h-1zM1074 843h1v2h-1zM1075 842h1v1h-1zM1076 840h1v2h-1zM1077 839h2v1h-2zM1079 838h4v1h-4zM1083 837h3v1h-3zM1086 834h1v3h-1zM1087 832h1v2h-1zM1088 829h1v3h-1zM1089 826h1v3h-1zM1090 823h1v3h-1zM1091 821h1v2h-1zM1092 818h1v3h-1zM1093 815h1v3h-1zM1094 815h9v1h-9zM1103 816h2v1h-2zM1105 817h2v1h-2zM1107 818h2v1h-2zM1109 819h1v1h-1zM1110 818h3v1h-3zM1113 817h3v1h-3zM1116 816h6v1h-6zM1122 817h4v1h-4zM1126 818h2v1h-2zM1128 819h1v1h-1zM1129 820h1v1h-1zM1130 821h2v1h-2zM1132 822h1v1h-1zM1133 823h5v1h-5zM1138 824h7v1h-7zM1145 823h9v1h-9zM1154 824h4v1h-4zM1158 823h1v1h-1zM1159 822h1v1h-1zM1160 820h1v2h-1zM1161 819h1v1h-1zM1162 818h1v1h-1zM1163 817h1v1h-1zM1164 816h1v1h-1zM1165 815h1v1h-1zM1166 814h2v1h-2zM1168 813h2v1h-2zM1170 812h2v1h-2zM1172 811h3v1h-3zM1175 810h4v1h-4zM1179 809h3v1h-3zM1182 810h1v4h-1zM1183 814h1v3h-1zM1184 817h1v4h-1zM1185 821h1v4h-1zM1186 825h1v4h-1zM1187 829h1v3h-1zM1188 832h1v4h-1zM1189 836h1v4h-1zM1190 839h1v1h-1zM1191 838h4v1h-4zM1195 837h6v1h-6zM1201 836h5v1h-5zM1206 837h1v1h-1zM1207 838h1v1h-1zM1208 839h1v1h-1zM1209 840h1v1h-1zM1210 841h1v2h-1zM1211 843h1v1h-1zM1212 844h1v1h-1zM1213 845h1v1h-1zM1214 844h1v1h-1zM1215 842h1v2h-1zM1216 841h1v1h-1zM1217 839h1v2h-1zM1218 838h1v1h-1zM1219 836h1v2h-1zM1220 835h1v1h-1zM1221 833h1v2h-1zM1222 833h5v1h-5zM1227 832h3v1h-3zM1230 830h1v2h-1zM1231 829h1v1h-1zM1232 827h1v2h-1zM1233 825h1v2h-1zM1234 823h1v2h-1zM1235 822h1v1h-1zM1236 820h1v2h-1zM1237 818h1v2h-1zM1238 819h1v1h-1zM1239 820h1v2h-1zM1240 822h1v1h-1zM1241 823h1v2h-1zM1242 825h1v1h-1zM1243 826h1v2h-1zM1244 828h1v1h-1zM1245 829h1v2h-1zM1246 830h4v1h-4zM1250 829h7v1h-7zM1257 828h5v1h-5zM1262 827h1v1h-1zM1263 826h1v1h-1zM1264 825h1v1h-1zM1265 824h1v1h-1zM1266 823h1v1h-1zM1267 822h1v1h-1zM1268 821h1v1h-1zM1269 820h9v1h-9zM1278 818h1v2h-1zM1279 816h1v2h-1zM1280 815h1v1h-1zM1281 813h1v2h-1zM1282 812h1v1h-1zM1283 810h1v2h-1zM1284 808h1v2h-1zM1285 807h1v1h-1zM1286 806h2v1h-2zM1288 805h2v1h-2zM1290 804h2v1h-2zM1292 803h16v1h-16zM1308 804h2v1h-2zM1310 805h1v1h-1zM1311 806h1v1h-1zM1312 807h1v1h-1zM1313 808h1v1h-1zM1314 809h1v1h-1zM1315 810h1v1h-1zM1316 811h1v1h-1zM1317 812h2v1h-2zM1319 811h2v1h-2zM1321 810h3v1h-3zM1324 809h2v1h-2zM1326 807h1v2h-1zM1327 806h1v1h-1zM1328 805h1v1h-1zM1329 804h1v1h-1zM1330 802h1v2h-1zM1331 801h1v1h-1zM1332 800h1v1h-1zM1333 799h1v1h-1zM1334 798h1v1h-1zM1335 797h2v1h-2zM1337 796h1v1h-1zM1338 795h2v1h-2zM1340 794h2v1h-2zM1342 795h1v1h-1zM1343 796h1v2h-1zM1344 798h1v2h-1zM1345 800h1v2h-1zM1346 802h1v2h-1zM1347 804h1v1h-1zM1348 805h1v2h-1zM1349 807h1v2h-1zM1350 809h2v1h-2zM1352 810h2v1h-2zM1354 811h2v1h-2zM1356 812h2v1h-2zM1358 813h1v1h-1zM1359 814h1v2h-1zM1360 816h1v1h-1zM1361 817h1v1h-1zM1362 818h1v2h-1zM1363 820h1v1h-1zM1364 821h1v1h-1zM1365 822h3v1h-3zM1368 821h2v1h-2zM1370 820h2v1h-2zM1372 819h2v1h-2zM1374 820h1v1h-1zM1375 821h1v2h-1zM1376 823h1v1h-1zM1377 824h1v1h-1zM1378 825h1v2h-1zM1379 827h1v1h-1zM1380 828h1v2h-1zM1381 830h2v1h-2zM1383 829h2v1h-2zM1385 828h3v1h-3zM1388 827h2v1h-2zM1390 826h4v1h-4zM1394 825h4v1h-4zM1398 824h2v1h-2zM1400 823h2v1h-2zM1402 822h1v1h-1zM1403 821h2v1h-2zM1405 820h1v1h-1zM1406 821h1v2h-1zM1407 823h1v1h-1zM1408 824h1v1h-1zM1409 825h1v2h-1zM1410 827h1v1h-1zM1411 828h1v1h-1zM1412 829h1v2h-1zM1413 831h1v1h-1zM1414 832h1v3h-1zM1415 835h1v4h-1zM1416 839h1v3h-1zM1417 842h1v3h-1zM1418 845h1v3h-1zM1419 848h1v3h-1zM1420 851h1v4h-1zM1421 855h1v3h-1zM1422 856h1v1h-1zM1423 855h1v1h-1zM1424 854h1v1h-1zM1425 852h1v2h-1zM1426 851h1v1h-1zM1427 850h1v1h-1zM1428 849h1v1h-1zM1429 848h2v1h-2zM1431 849h3v1h-3zM1434 850h2v1h-2zM1436 851h4v1h-4zM1440 850h14v1h-14z" fill="#1e90ff"/>
</g>
<text x="-6.3" y="764" font-size="9.4" fill="#000" text-anchor="start" font-weight="normal" stroke="#000" stroke-width="0.12" textLength="66.9" lengthAdjust="spacingAndGlyphs" >RSI(14) 43.5237</text>
<text x="1651.3" y="762.2" font-size="9.5" fill="#000" text-anchor="start" font-weight="normal" stroke="#000" stroke-width="0.12" >100</text>
<text x="1649.8" y="791.2" font-size="9.5" fill="#000" text-anchor="start" font-weight="normal" stroke="#000" stroke-width="0.12" >80</text>
<text x="1649.8" y="842.2" font-size="9.5" fill="#000" text-anchor="start" font-weight="normal" stroke="#000" stroke-width="0.12" >50</text>
<text x="1650.5" y="903.2" font-size="9.5" fill="#000" text-anchor="start" font-weight="normal" stroke="#000" stroke-width="0.12" >15</text>
<text x="1651.3" y="922" font-size="9.5" fill="#000" text-anchor="start" font-weight="normal" stroke="#000" stroke-width="0.12" >0</text>
<g shape-rendering="crispEdges"><rect x="1647" y="578" width="1" height="1" fill="#fff"/><rect x="1647" y="750" width="1" height="1" fill="#fff"/><rect x="1648" y="581" width="1" height="1" fill="#000"/><rect x="1648" y="748" width="1" height="1" fill="#000"/><rect x="1648" y="753" width="1" height="1" fill="#000"/></g>
<text x="-12.3" y="938" font-size="9.45" fill="#000" text-anchor="start" font-weight="normal" stroke="#000" stroke-width="0.12" >27 Jul 2021</text>
<rect x="53" y="926" width="1" height="3" fill="#000" shape-rendering="crispEdges"/>
<text x="51.8" y="938" font-size="9.45" fill="#000" text-anchor="start" font-weight="normal" stroke="#000" stroke-width="0.12" >28 Jul 20:00</text>
<rect x="117" y="926" width="1" height="3" fill="#000" shape-rendering="crispEdges"/>
<text x="115.8" y="938" font-size="9.45" fill="#000" text-anchor="start" font-weight="normal" stroke="#000" stroke-width="0.12" >30 Jul 04:00</text>
<rect x="181" y="926" width="1" height="3" fill="#000" shape-rendering="crispEdges"/>
<text x="179.8" y="938" font-size="9.45" fill="#000" text-anchor="start" font-weight="normal" stroke="#000" stroke-width="0.12" >2 Aug 12:00</text>
<rect x="245" y="926" width="1" height="3" fill="#000" shape-rendering="crispEdges"/>
<text x="243.8" y="938" font-size="9.45" fill="#000" text-anchor="start" font-weight="normal" stroke="#000" stroke-width="0.12" >3 Aug 20:00</text>
<rect x="309" y="926" width="1" height="3" fill="#000" shape-rendering="crispEdges"/>
<text x="307.8" y="938" font-size="9.45" fill="#000" text-anchor="start" font-weight="normal" stroke="#000" stroke-width="0.12" >5 Aug 04:00</text>
<rect x="373" y="926" width="1" height="3" fill="#000" shape-rendering="crispEdges"/>
<text x="371.8" y="938" font-size="9.45" fill="#000" text-anchor="start" font-weight="normal" stroke="#000" stroke-width="0.12" >6 Aug 12:00</text>
<rect x="437" y="926" width="1" height="3" fill="#000" shape-rendering="crispEdges"/>
<text x="435.8" y="938" font-size="9.45" fill="#000" text-anchor="start" font-weight="normal" stroke="#000" stroke-width="0.12" >9 Aug 20:00</text>
<rect x="501" y="926" width="1" height="3" fill="#000" shape-rendering="crispEdges"/>
<text x="499.8" y="938" font-size="9.45" fill="#000" text-anchor="start" font-weight="normal" stroke="#000" stroke-width="0.12" >11 Aug 04:00</text>
<rect x="565" y="926" width="1" height="3" fill="#000" shape-rendering="crispEdges"/>
<text x="563.8" y="938" font-size="9.45" fill="#000" text-anchor="start" font-weight="normal" stroke="#000" stroke-width="0.12" >12 Aug 12:00</text>
<rect x="629" y="926" width="1" height="3" fill="#000" shape-rendering="crispEdges"/>
<text x="627.8" y="938" font-size="9.45" fill="#000" text-anchor="start" font-weight="normal" stroke="#000" stroke-width="0.12" >15 Aug 23:00</text>
<rect x="693" y="926" width="1" height="3" fill="#000" shape-rendering="crispEdges"/>
<text x="691.8" y="938" font-size="9.45" fill="#000" text-anchor="start" font-weight="normal" stroke="#000" stroke-width="0.12" >17 Aug 04:00</text>
<rect x="757" y="926" width="1" height="3" fill="#000" shape-rendering="crispEdges"/>
<text x="755.8" y="938" font-size="9.45" fill="#000" text-anchor="start" font-weight="normal" stroke="#000" stroke-width="0.12" >18 Aug 12:00</text>
<rect x="821" y="926" width="1" height="3" fill="#000" shape-rendering="crispEdges"/>
<text x="819.8" y="938" font-size="9.45" fill="#000" text-anchor="start" font-weight="normal" stroke="#000" stroke-width="0.12" >19 Aug 20:00</text>
<rect x="885" y="926" width="1" height="3" fill="#000" shape-rendering="crispEdges"/>
<text x="883.8" y="938" font-size="9.45" fill="#000" text-anchor="start" font-weight="normal" stroke="#000" stroke-width="0.12" >23 Aug 04:00</text>
<rect x="949" y="926" width="1" height="3" fill="#000" shape-rendering="crispEdges"/>
<text x="947.8" y="938" font-size="9.45" fill="#000" text-anchor="start" font-weight="normal" stroke="#000" stroke-width="0.12" >24 Aug 12:00</text>
<rect x="1013" y="926" width="1" height="3" fill="#000" shape-rendering="crispEdges"/>
<text x="1011.8" y="938" font-size="9.45" fill="#000" text-anchor="start" font-weight="normal" stroke="#000" stroke-width="0.12" >25 Aug 20:00</text>
<rect x="1077" y="926" width="1" height="3" fill="#000" shape-rendering="crispEdges"/>
<text x="1075.8" y="938" font-size="9.45" fill="#000" text-anchor="start" font-weight="normal" stroke="#000" stroke-width="0.12" >27 Aug 04:00</text>
<rect x="1141" y="926" width="1" height="3" fill="#000" shape-rendering="crispEdges"/>
<text x="1139.8" y="938" font-size="9.45" fill="#000" text-anchor="start" font-weight="normal" stroke="#000" stroke-width="0.12" >30 Aug 12:00</text>
<rect x="1205" y="926" width="1" height="3" fill="#000" shape-rendering="crispEdges"/>
<text x="1203.8" y="938" font-size="9.45" fill="#000" text-anchor="start" font-weight="normal" stroke="#000" stroke-width="0.12" >31 Aug 20:00</text>
<rect x="1269" y="926" width="1" height="3" fill="#000" shape-rendering="crispEdges"/>
<text x="1267.8" y="938" font-size="9.45" fill="#000" text-anchor="start" font-weight="normal" stroke="#000" stroke-width="0.12" >2 Sep 04:00</text>
<rect x="1333" y="926" width="1" height="3" fill="#000" shape-rendering="crispEdges"/>
<text x="1331.8" y="938" font-size="9.45" fill="#000" text-anchor="start" font-weight="normal" stroke="#000" stroke-width="0.12" >3 Sep 12:00</text>
<rect x="1397" y="926" width="1" height="3" fill="#000" shape-rendering="crispEdges"/>
<text x="1395.8" y="938" font-size="9.45" fill="#000" text-anchor="start" font-weight="normal" stroke="#000" stroke-width="0.12" >6 Sep 20:00</text>
<polygon points="1204.9,385.2 1343.8,193.7 1346.1,195.4 1349.2,183.3 1338.7,190.0 1340.9,191.6 1201.9,383.0" fill="#ff0000" shape-rendering="crispEdges"/>
<polygon points="1347.1,184.3 1434.0,314.2 1431.5,315.8 1441.9,322.8 1439.4,310.5 1436.9,312.2 1350.1,182.3" fill="#ff0000" shape-rendering="crispEdges"/>
<polygon points="1366.5,611.5 1435.4,648.4 1433.8,651.2 1445.8,652.2 1438.4,642.8 1436.8,645.6 1367.9,608.7" fill="#ff0000" shape-rendering="crispEdges"/>
<polygon points="1339.5,800.5 1440.5,852.9 1439.0,855.8 1451.0,856.6 1443.4,847.3 1442.0,850.2 1340.9,797.7" fill="#ff0000" shape-rendering="crispEdges"/>
<rect x="1391" y="300" width="110" height="7" fill="#00ff00" shape-rendering="crispEdges"/>
<text x="4.3" y="35.7" font-size="9.6" fill="#000" text-anchor="start" font-weight="normal" stroke="#000" stroke-width="0.12" textLength="203.4" lengthAdjust="spacingAndGlyphs" >GBPUSD-,H4&#160;&#160;1.37841 1.37861 1.37841 1.37852</text>
<path d="M1459 25h9v1h-1v1h-1v1h-1v1h-1v1h-1v-1h-1v-1h-1v-1h-1v-1h-1z" fill="#c0c0c0" shape-rendering="crispEdges"/>
<g shape-rendering="crispEdges">
<rect x="0" y="42" width="213" height="61" fill="#fff"/>
<rect x="0" y="44" width="44" height="25" fill="url(#gTab)"/>
<rect x="159" y="44" width="52" height="25" fill="url(#gTab)"/>
<rect x="0" y="68" width="101" height="33" fill="url(#gBox)"/>
<rect x="103" y="68" width="108" height="33" fill="url(#gBox)"/>
<rect x="43" y="44" width="1" height="25" fill="#2a2ac8"/><rect x="159" y="44" width="1" height="25" fill="#2a2ac8"/><rect x="210" y="44" width="1" height="57" fill="#1818b8"/><rect x="0" y="68" width="40" height="1" fill="#7878e8"/>
<rect x="163" y="68" width="44" height="1" fill="#7878e8"/><rect x="163" y="67" width="44" height="1" fill="#1c1cb0"/><rect x="0" y="67" width="40" height="1" fill="#1c1cb0"/><rect x="0" y="44" width="44" height="1" fill="#2c2cc8"/><rect x="159" y="44" width="52" height="1" fill="#2c2cc8"/><rect x="44" y="68" width="57" height="1" fill="#0c0cae"/><rect x="103" y="68" width="56" height="1" fill="#0c0cae"/><rect x="0" y="100" width="101" height="1" fill="#0000a0"/><rect x="103" y="100" width="108" height="1" fill="#0000a0"/>
<rect x="46.5" y="44.5" width="110" height="21" fill="#fff" stroke="#a8a8a8"/>
<rect x="48" y="46" width="18" height="18" fill="url(#gBtn)"/>
<rect x="137" y="46" width="18" height="18" fill="url(#gBtn)"/>
<rect x="67" y="45" width="1" height="20" fill="#b0b0b0"/>
<rect x="135" y="45" width="1" height="20" fill="#b0b0b0"/>
</g>
<polygon points="54,53 59.5,53 56.75,56" fill="#4a5fc0"/>
<polygon points="143,56 148.5,56 145.75,53" fill="#4a5fc0"/>
<text x="4.7" y="59.2" font-size="11.6" fill="#fff" text-anchor="start" font-weight="normal" textLength="25.2" lengthAdjust="spacingAndGlyphs" >SELL</text>
<text x="172.6" y="59.2" font-size="11.6" fill="#fff" text-anchor="start" font-weight="normal" textLength="23.2" lengthAdjust="spacingAndGlyphs" >BUY</text>
<text x="108.7" y="58.8" font-size="12" fill="#000" text-anchor="start" font-weight="normal" textLength="23" lengthAdjust="spacingAndGlyphs" >1.00</text>
<text x="12.6" y="96.1" font-size="13" fill="#fff" text-anchor="start" font-weight="bold" textLength="22.8" lengthAdjust="spacingAndGlyphs" >1.37</text>
<text x="122.7" y="96.1" font-size="13" fill="#fff" text-anchor="start" font-weight="bold" textLength="22.8" lengthAdjust="spacingAndGlyphs" >1.37</text>
<text x="40.2" y="96.3" font-size="35.5" fill="#fff" text-anchor="start" font-weight="normal" textLength="33.8" lengthAdjust="spacingAndGlyphs" >85</text>
<text x="151.4" y="96.3" font-size="35.5" fill="#fff" text-anchor="start" font-weight="normal" textLength="33.8" lengthAdjust="spacingAndGlyphs" >87</text>
<text x="79.0" y="79.9" font-size="12.6" fill="#fff" text-anchor="start" font-weight="bold" >2</text>
<text x="190.2" y="79.9" font-size="12.6" fill="#fff" text-anchor="start" font-weight="bold" >6</text>
<g shape-rendering="crispEdges">
<rect x="0" y="0" width="1694" height="19" fill="#f0f0f0"/>
<rect x="0" y="19" width="1694" height="1" fill="#ffffff"/>
<rect x="0" y="20" width="1694" height="1" fill="#a0a0a0"/>
<rect x="0" y="21" width="1694" height="1" fill="#696969"/>
<rect x="1693" y="22" width="1" height="924" fill="#d4d4d4"/>
</g>
<rect x="0" y="14.5" width="0.8" height="2.5" fill="#e0a020"/>
<polygon points="4.5,10.8 6.2,12.5 4.5,14.2 2.8,12.5" fill="#f0f0f0" stroke="#101010" stroke-width="1"/>
<rect x="8" y="0" width="1" height="17" fill="#a0a0a0" shape-rendering="crispEdges"/>
<path d="M18.5,0 L25.5,0 L28.5,3 L28.5,12.5 L18.5,12.5 Z" fill="#fff" stroke="#606060" stroke-width="1"/>
<path d="M20.5,3.5h5M20.5,6h3M20.5,8.5h2" stroke="#707070" stroke-width="1"/>
<path d="M26.1,6.4 h3.6 v3.6 h3.6 v3.6 h-3.6 v3.6 h-3.6 v-3.6 h-3.6 v-3.6 h3.6 z" fill="#2fd02f" stroke="#0c8a0c" stroke-width="0.9"/>
<path d="M27.9,7.4 v8.8 M23.5,11.8 h8.8" stroke="#8af08a" stroke-width="1.2" fill="none"/>
<text x="36.4" y="10.9" font-size="12.2" fill="#000" stroke="#000" stroke-width="0.27" text-anchor="start" font-weight="normal" textLength="36.6" lengthAdjust="spacing" style="font-family:'Liberation Sans','Noto Sans CJK SC',sans-serif">新订单</text>
<path d="M85.2,9.8 L92.6,14.4 L100.6,9.2 L100.6,10.8 L92.4,16 L85.2,11.2 Z" fill="#b87c14" stroke="#8a5a08" stroke-width="0.5"/>
<path d="M85.2,9.8 L90.8,1.2 L100.6,9.2 L92.6,14.4 Z" fill="url(#gBook)" stroke="#a87010" stroke-width="0.6"/>
<path d="M86.5,10.3 L92.5,14 L99.5,9.4" stroke="#fff0b0" stroke-width="0.7" fill="none"/>
<rect x="115.3" y="-1" width="11.4" height="9.6" fill="#2f96f4" stroke="#1c6cd0" stroke-width="0.7"/>
<rect x="115.6" y="-1" width="3.2" height="9.4" fill="#1a70dc"/>
<path d="M120.4,2.6h5.2M120.4,5h5.2" stroke="#eaf4ff" stroke-width="1.1"/>
<path d="M116,15 a2.9,2.9 0 0 1 0.2,-5.6 a4.3,4.3 0 0 1 8,-1.2 a3.1,3.1 0 0 1 2.2,6.8 z" fill="url(#gBubble)" stroke="#6f8fc4" stroke-width="1"/>
<path d="M114,15.6 h14" stroke="#9ab0d0" stroke-width="0.8" opacity="0.7"/>
<circle cx="149" cy="7.9" r="7.4" fill="#e6eef2"/>
<path d="M149,7.9 L149,15.3 A7.4,7.4 0 0 0 156.4,7.9 Z" fill="#6cc070" opacity="0.75"/>
<path d="M149,0.5 A7.4,7.4 0 0 0 149,15.3" fill="none" stroke="#5a86d4" stroke-width="1.2"/>
<path d="M149,3.7 A4.2,4.2 0 0 0 149,12.1" fill="none" stroke="#5a86d4" stroke-width="1.2"/>
<path d="M149,0.5 A7.4,7.4 0 0 1 156.4,7.9 A7.4,7.4 0 0 1 149,15.3" fill="none" stroke="#5aa868" stroke-width="1.2"/>
<path d="M149,3.7 A4.2,4.2 0 0 1 153.2,7.9" fill="none" stroke="#5aa868" stroke-width="1.2"/>
<rect x="148.4" y="8" width="1.3" height="7.4" fill="#2a9a3a"/>
<circle cx="149" cy="7.7" r="1.7" fill="#2454b8"/>
<path d="M169.4,5.6 L183.2,5.6 L181.5,9.5 L175.2,15.6 L171.6,10.8 Z" fill="url(#gBook)" stroke="#c09018" stroke-width="0.6"/>
<ellipse cx="175.9" cy="4.4" rx="7.6" ry="2.6" fill="#58a4e4" stroke="#3a78c0" stroke-width="0.7"/>
<path d="M172.3,3.6 q3.6,-7.4 7.2,0 z" fill="#7abcf0" stroke="#3a78c0" stroke-width="0.6"/>
<circle cx="180.4" cy="11.6" r="4.2" fill="#e02412" stroke="#a8140a" stroke-width="0.6"/>
<rect x="178.7" y="9.9" width="3.4" height="3.4" fill="#fff"/>
<text x="189.2" y="10.9" font-size="12.2" fill="#000" stroke="#000" stroke-width="0.27" text-anchor="start" font-weight="normal" textLength="47.3" lengthAdjust="spacing" style="font-family:'Liberation Sans','Noto Sans CJK SC',sans-serif">自动交易</text>
<rect x="244" y="0" width="1" height="17" fill="#a0a0a0" shape-rendering="crispEdges"/>
<rect x="248" y="0" width="3" height="1" fill="#a8a8a8" shape-rendering="crispEdges"/>
<rect x="248" y="2" width="3" height="1" fill="#a8a8a8" shape-rendering="crispEdges"/>
<rect x="248" y="4" width="3" height="1" fill="#a8a8a8" shape-rendering="crispEdges"/>
<rect x="248" y="6" width="3" height="1" fill="#a8a8a8" shape-rendering="crispEdges"/>
<rect x="248" y="8" width="3" height="1" fill="#a8a8a8" shape-rendering="crispEdges"/>
<rect x="248" y="10" width="3" height="1" fill="#a8a8a8" shape-rendering="crispEdges"/>
<rect x="248" y="12" width="3" height="1" fill="#a8a8a8" shape-rendering="crispEdges"/>
<rect x="248" y="14" width="3" height="1" fill="#a8a8a8" shape-rendering="crispEdges"/>
<rect x="248" y="16" width="3" height="1" fill="#a8a8a8" shape-rendering="crispEdges"/>
<g stroke="#505050" stroke-width="1" fill="none" shape-rendering="crispEdges"><line x1="262.5" y1="3" x2="262.5" y2="16"/><line x1="260" y1="13.5" x2="272" y2="13.5"/></g>
<polygon points="262.5,1.8 260.8,4.4 264.2,4.4" fill="#505050"/>
<polygon points="273.6,13.5 271,11.8 271,15.2" fill="#505050"/>
<path d="M268.5,3.5 v7.5 M268.5,4.5 h2.5 M266,10.5 h2.5" stroke="#1a8a2a" stroke-width="1.4" fill="none"/>
<rect x="282" y="0" width="1" height="17" fill="#a0a0a0" shape-rendering="crispEdges"/>
<rect x="284" y="0" width="24" height="18" fill="#f9f9f9" shape-rendering="crispEdges"/>
<g stroke="#505050" stroke-width="1" fill="none" shape-rendering="crispEdges"><line x1="290.5" y1="3" x2="290.5" y2="16"/><line x1="288" y1="13.5" x2="300" y2="13.5"/></g>
<polygon points="290.5,1.8 288.8,4.4 292.2,4.4" fill="#505050"/>
<polygon points="301.6,13.5 299,11.8 299,15.2" fill="#505050"/>
<line x1="296.7" y1="0" x2="296.7" y2="11.5" stroke="#0a6a1a" stroke-width="1"/>
<rect x="294.7" y="2.5" width="4" height="7" fill="#28d038" stroke="#0a6a1a" stroke-width="0.8"/>
<g stroke="#505050" stroke-width="1" fill="none" shape-rendering="crispEdges"><line x1="318.5" y1="3" x2="318.5" y2="16"/><line x1="316" y1="13.5" x2="328" y2="13.5"/></g>
<polygon points="318.5,1.8 316.8,4.4 320.2,4.4" fill="#505050"/>
<polygon points="329.6,13.5 327,11.8 327,15.2" fill="#505050"/>
<path d="M317.5,11 Q322,3 324.5,4.5 T329.5,9.5" stroke="#1a8a2a" stroke-width="1.2" fill="none"/>
<rect x="339" y="0" width="1" height="17" fill="#a0a0a0" shape-rendering="crispEdges"/>
<line x1="358.2" y1="10.6" x2="362.4" y2="14.3" stroke="#9a7410" stroke-width="4.2" stroke-linecap="round"/>
<line x1="358.2" y1="10.6" x2="362.4" y2="14.3" stroke="#ecc030" stroke-width="2.6" stroke-linecap="round"/>
<circle cx="354" cy="6.2" r="5.4" fill="#d4eafa" stroke="#3a78c8" stroke-width="1.4"/>
<line x1="351" y1="6.2" x2="357" y2="6.2" stroke="#2a64b0" stroke-width="1.7"/>
<line x1="354" y1="3.2" x2="354" y2="9.2" stroke="#2a64b0" stroke-width="1.7"/>
<line x1="385.9" y1="10.6" x2="390.09999999999997" y2="14.3" stroke="#9a7410" stroke-width="4.2" stroke-linecap="round"/>
<line x1="385.9" y1="10.6" x2="390.09999999999997" y2="14.3" stroke="#ecc030" stroke-width="2.6" stroke-linecap="round"/>
<circle cx="381.7" cy="6.2" r="5.4" fill="#d4eafa" stroke="#3a78c8" stroke-width="1.4"/>
<line x1="378.7" y1="6.2" x2="384.7" y2="6.2" stroke="#2a64b0" stroke-width="1.7"/>
<rect x="404" y="0" width="8" height="7.8" rx="0.8" fill="#3c9a20"/>
<rect x="405.3" y="3.2" width="5.6" height="3.6" fill="#f4f8fc"/>
<rect x="406.3" y="4.2" width="3.6" height="0.9" fill="#a8d890"/>
<rect x="412" y="0" width="8" height="7.8" rx="0.8" fill="#1c48c0"/>
<rect x="413.3" y="3.2" width="5.6" height="3.6" fill="#f4f8fc"/>
<rect x="414.3" y="4.2" width="3.6" height="0.9" fill="#90a8f0"/>
<rect x="404" y="8" width="8" height="7.8" rx="0.8" fill="#1c48c0"/>
<rect x="405.3" y="11.2" width="5.6" height="3.6" fill="#f4f8fc"/>
<rect x="406.3" y="12.2" width="3.6" height="0.9" fill="#90a8f0"/>
<rect x="412" y="8" width="8" height="7.8" rx="0.8" fill="#3c9a20"/>
<rect x="413.3" y="11.2" width="5.6" height="3.6" fill="#f4f8fc"/>
<rect x="414.3" y="12.2" width="3.6" height="0.9" fill="#a8d890"/>
<rect x="429" y="0" width="1" height="17" fill="#a0a0a0" shape-rendering="crispEdges"/>
<rect x="435" y="0" width="26" height="18" fill="#f9f9f9" shape-rendering="crispEdges"/>
<rect x="434" y="0" width="1" height="17" fill="#a0a0a0" shape-rendering="crispEdges"/>
<g stroke="#505050" stroke-width="1" fill="none" shape-rendering="crispEdges"><line x1="442.5" y1="3" x2="442.5" y2="16"/><line x1="440" y1="13.5" x2="452" y2="13.5"/></g>
<polygon points="442.5,1.8 440.8,4.4 444.2,4.4" fill="#505050"/>
<polygon points="453.6,13.5 451,11.8 451,15.2" fill="#505050"/>
<polygon points="447.3,4.3 447.3,10.7 451.6,7.5" fill="#30c040" stroke="#108a20" stroke-width="0.7"/>
<rect x="461" y="0" width="1" height="17" fill="#a0a0a0" shape-rendering="crispEdges"/>
<rect x="463" y="0" width="26" height="18" fill="#f9f9f9" shape-rendering="crispEdges"/>
<g stroke="#505050" stroke-width="1" fill="none" shape-rendering="crispEdges"><line x1="470.5" y1="3" x2="470.5" y2="16"/><line x1="468" y1="13.5" x2="480" y2="13.5"/></g>
<polygon points="470.5,1.8 468.8,4.4 472.2,4.4" fill="#505050"/>
<polygon points="481.6,13.5 479,11.8 479,15.2" fill="#505050"/>
<line x1="476.5" y1="1.5" x2="476.5" y2="11.5" stroke="#2a60c0" stroke-width="1.2"/>
<path d="M482,7 h-4 M479.6,5 l-2,2 l2,2" stroke="#e05010" stroke-width="1.1" fill="none"/>
<rect x="491" y="0" width="1" height="17" fill="#a0a0a0" shape-rendering="crispEdges"/>
<path d="M502,1 L509,1 L512.5,4.5 L512.5,13 L502,13 Z" fill="#fff" stroke="#707070" stroke-width="0.9"/>
<path d="M504,5.5 c1,-2 2,-2 2,0 v5 M503.5,8 h4" stroke="#808080" stroke-width="0.8" fill="none"/>
<path d="M509.3,6.6 h3.6 v3.6 h3.6 v3.6 h-3.6 v3.6 h-3.6 v-3.6 h-3.6 v-3.6 h3.6 z" fill="#2fd02f" stroke="#0c8a0c" stroke-width="0.9"/>
<path d="M511.1,7.6 v8.8 M506.7,12 h8.8" stroke="#8af08a" stroke-width="1.2" fill="none"/>
<polygon points="523,7.2 529,7.2 526,10.2" fill="#000"/>
<rect x="545.6" y="-1" width="2.8" height="2" fill="#1a60c8"/>
<circle cx="547" cy="7.9" r="6.8" fill="#eef1f5" stroke="url(#gClock)" stroke-width="2.3"/>
<path d="M547,3.3 v0.9 M547,11.6 v0.9 M542.4,7.9 h0.9 M550.7,7.9 h0.9" stroke="#8a96a8" stroke-width="0.8"/>
<path d="M546.6,4.6 v3.6 h2.9" stroke="#303030" stroke-width="1.1" fill="none"/>
<polygon points="561.5,7.2 567.5,7.2 564.5,10.2" fill="#000"/>
<rect x="578.5" y="1.7" width="15" height="12.8" fill="#fff" stroke="#3a74d0" stroke-width="1.1"/>
<rect x="579" y="2.2" width="14" height="1.6" fill="#8ab8f0"/>
<rect x="579" y="8.6" width="14" height="0.9" fill="#5a90e0"/>
<path d="M580.3,7.3 h2 l1.5,-1.3 h1.8 l1.2,0.8 h1.8 l1.4,-1.2 h1.6" stroke="#a82408" stroke-width="1.2" fill="none"/>
<path d="M580.3,12.6 h1.8 l1.6,-1.2 h1.6 l1.6,0.9 l2,-2 l1.6,1.6 h1" stroke="#148428" stroke-width="1.2" fill="none"/>
<polygon points="601,7.2 607,7.2 604,10.2" fill="#000"/>
<rect x="612" y="0" width="1" height="17" fill="#a0a0a0" shape-rendering="crispEdges"/>
<rect x="616" y="0" width="3" height="1" fill="#a8a8a8" shape-rendering="crispEdges"/>
<rect x="616" y="2" width="3" height="1" fill="#a8a8a8" shape-rendering="crispEdges"/>
<rect x="616" y="4" width="3" height="1" fill="#a8a8a8" shape-rendering="crispEdges"/>
<rect x="616" y="6" width="3" height="1" fill="#a8a8a8" shape-rendering="crispEdges"/>
<rect x="616" y="8" width="3" height="1" fill="#a8a8a8" shape-rendering="crispEdges"/>
<rect x="616" y="10" width="3" height="1" fill="#a8a8a8" shape-rendering="crispEdges"/>
<rect x="616" y="12" width="3" height="1" fill="#a8a8a8" shape-rendering="crispEdges"/>
<rect x="616" y="14" width="3" height="1" fill="#a8a8a8" shape-rendering="crispEdges"/>
<rect x="616" y="16" width="3" height="1" fill="#a8a8a8" shape-rendering="crispEdges"/>
<rect x="622" y="0" width="1" height="17" fill="#a0a0a0" shape-rendering="crispEdges"/>
<rect x="624" y="0" width="23" height="18" fill="#f9f9f9" shape-rendering="crispEdges"/>
<path d="M629.5,1.5 L629.5,13 L632.3,10.3 L634.5,15 L636.3,14.2 L634.2,9.6 L638,9.6 Z" fill="#404040"/>
<path d="M662.5,1.5 v14 M655.5,8.5 h14" stroke="#404040" stroke-width="1" shape-rendering="crispEdges"/>
<rect x="661" y="7" width="3" height="3" fill="#f0f0f0"/>
<rect x="662" y="8" width="1" height="1" fill="#404040"/>
<rect x="679" y="0" width="1" height="17" fill="#a0a0a0" shape-rendering="crispEdges"/>
<rect x="696" y="2" width="1" height="13" fill="#404040" shape-rendering="crispEdges"/>
<rect x="719" y="8" width="12" height="1" fill="#404040" shape-rendering="crispEdges"/>
<line x1="747" y1="15" x2="759.3" y2="3" stroke="#404040" stroke-width="1.1"/>
<path d="M773,9.6 L784.6,0.5 M775.4,14.4 L787,5.6 M775.5,7.6 l2.2,5 M778.3,5.4 l2.2,5 M781.1,3.2 l2.2,5 M784,0 l1.8,6.5 M774,12 l9.5,-7.4" stroke="#404040" stroke-width="0.9" fill="none"/>
<path d="M784 12h4v1h-3v1h2v1h-2v1h3v1h-4z" fill="#303030" shape-rendering="crispEdges"/>
<line x1="802" y1="1.5" x2="815" y2="1.5" stroke="#505050" stroke-width="1" stroke-dasharray="1,1" shape-rendering="crispEdges"/>
<line x1="802" y1="4.5" x2="815" y2="4.5" stroke="#505050" stroke-width="1" stroke-dasharray="1,1" shape-rendering="crispEdges"/>
<line x1="802" y1="6.5" x2="815" y2="6.5" stroke="#505050" stroke-width="1" stroke-dasharray="1,1" shape-rendering="crispEdges"/>
<line x1="802" y1="9.5" x2="815" y2="9.5" stroke="#505050" stroke-width="1" stroke-dasharray="1,1" shape-rendering="crispEdges"/>
<line x1="802" y1="12.5" x2="815" y2="12.5" stroke="#505050" stroke-width="1" stroke-dasharray="1,1" shape-rendering="crispEdges"/>
<rect x="811" y="11.5" width="6" height="6" fill="#f0f0f0"/>
<path d="M812 12h4v1h-3v1h2v1h-2v2h-1z" fill="#303030" shape-rendering="crispEdges"/>
<text x="832.7" y="12.7" font-size="12" fill="#505050" text-anchor="start" font-weight="bold" textLength="8.2" lengthAdjust="spacingAndGlyphs">A</text>
<rect x="859.5" y="1.5" width="11" height="12.5" fill="none" stroke="#505050" stroke-width="1" stroke-dasharray="1,1" shape-rendering="crispEdges"/>
<text x="860.5" y="12.7" font-size="12" fill="#505050" text-anchor="start" font-weight="bold" textLength="7.8" lengthAdjust="spacingAndGlyphs">T</text>
<polygon points="889.8,1 893,4.2 889.8,7.4 886.6,4.2" fill="#303030"/>
<polygon points="896.9,9.1 900.1,12.3 896.9,15.5 893.7,12.3" fill="#303030"/>
<path d="M888.2,9.2 l2.6,2.4 l5.2,-6" stroke="#303030" stroke-width="1.5" fill="none"/>
<polygon points="906.5,7.5 912.5,7.5 909.5,10.5" fill="#000"/>
<rect x="918" y="0" width="1" height="17" fill="#a0a0a0" shape-rendering="crispEdges"/>
<rect x="922" y="0" width="3" height="1" fill="#a8a8a8" shape-rendering="crispEdges"/>
<rect x="922" y="2" width="3" height="1" fill="#a8a8a8" shape-rendering="crispEdges"/>
<rect x="922" y="4" width="3" height="1" fill="#a8a8a8" shape-rendering="crispEdges"/>
<rect x="922" y="6" width="3" height="1" fill="#a8a8a8" shape-rendering="crispEdges"/>
<rect x="922" y="8" width="3" height="1" fill="#a8a8a8" shape-rendering="crispEdges"/>
<rect x="922" y="10" width="3" height="1" fill="#a8a8a8" shape-rendering="crispEdges"/>
<rect x="922" y="12" width="3" height="1" fill="#a8a8a8" shape-rendering="crispEdges"/>
<rect x="922" y="14" width="3" height="1" fill="#a8a8a8" shape-rendering="crispEdges"/>
<rect x="922" y="16" width="3" height="1" fill="#a8a8a8" shape-rendering="crispEdges"/>
<rect x="1069" y="0" width="24" height="18" fill="#f9f9f9" shape-rendering="crispEdges"/>
<rect x="1068" y="0" width="1" height="18" fill="#a0a0a0" shape-rendering="crispEdges"/>
<text x="933.1" y="11.7" font-size="9.6" fill="#404040" text-anchor="start" font-weight="normal" stroke="#404040" stroke-width="0.12" textLength="13.6" lengthAdjust="spacingAndGlyphs" >M1</text>
<text x="961.4" y="11.7" font-size="9.6" fill="#404040" text-anchor="start" font-weight="normal" stroke="#404040" stroke-width="0.12" textLength="13.1" lengthAdjust="spacingAndGlyphs" >M5</text>
<text x="987.2" y="11.7" font-size="9.6" fill="#404040" text-anchor="start" font-weight="normal" stroke="#404040" stroke-width="0.12" textLength="18.4" lengthAdjust="spacingAndGlyphs" >M15</text>
<text x="1015.0" y="11.7" font-size="9.6" fill="#404040" text-anchor="start" font-weight="normal" stroke="#404040" stroke-width="0.12" textLength="18.4" lengthAdjust="spacingAndGlyphs" >M30</text>
<text x="1046.1" y="11.7" font-size="9.6" fill="#404040" text-anchor="start" font-weight="normal" stroke="#404040" stroke-width="0.12" textLength="12.5" lengthAdjust="spacingAndGlyphs" >H1</text>
<text x="1073.2" y="11.7" font-size="9.6" fill="#404040" text-anchor="start" font-weight="normal" stroke="#404040" stroke-width="0.12" textLength="13.3" lengthAdjust="spacingAndGlyphs" >H4</text>
<text x="1102.0" y="11.7" font-size="9.6" fill="#404040" text-anchor="start" font-weight="normal" stroke="#404040" stroke-width="0.12" textLength="12.5" lengthAdjust="spacingAndGlyphs" >D1</text>
<text x="1129.8" y="11.7" font-size="9.6" fill="#404040" text-anchor="start" font-weight="normal" stroke="#404040" stroke-width="0.12" textLength="14.8" lengthAdjust="spacingAndGlyphs" >W1</text>
<text x="1156.5" y="11.7" font-size="9.6" fill="#404040" text-anchor="start" font-weight="normal" stroke="#404040" stroke-width="0.12" textLength="15.0" lengthAdjust="spacingAndGlyphs" >MN</text>
<rect x="1179" y="0" width="1" height="17" fill="#a0a0a0" shape-rendering="crispEdges"/>
<line x1="1646.6" y1="8.3" x2="1642" y2="12.8" stroke="#2458c8" stroke-width="2.2" stroke-linecap="round"/>
<circle cx="1649.8" cy="5.2" r="3.8" fill="#f4f8ff" stroke="#2860d0" stroke-width="1.3"/>
<path d="M1666.5,10.5 a5.8,4.6 0 1 1 5,4.5 l-2.3,2 l0.3,-2.4 a5.8,4.6 0 0 1 -3,-4.1 z" fill="url(#gBubble)" stroke="#b4b4b8" stroke-width="1"/>
<ellipse cx="1672" cy="16.6" rx="5.5" ry="0.9" fill="#c8c8c8" opacity="0.7"/>
<circle cx="1680.3" cy="5.6" r="8.1" fill="url(#gBadge)"/>
<text x="1676.4" y="10.2" font-size="13" fill="#fff" text-anchor="start" font-weight="bold" textLength="7" lengthAdjust="spacingAndGlyphs">1</text>
</svg></body></html>
